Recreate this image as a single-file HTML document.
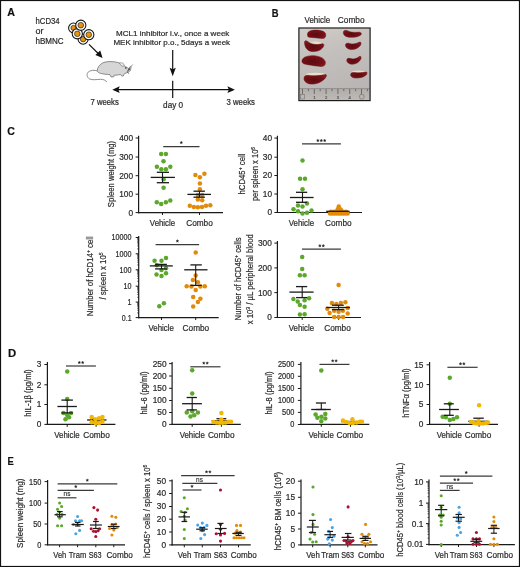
<!DOCTYPE html><html><head><meta charset="utf-8"><style>html,body{margin:0;padding:0;background:#fff;}svg{display:block;will-change:transform;}text{font-family:"Liberation Sans",sans-serif;stroke-width:0.2px;}</style></head><body>
<svg width="520" height="567" viewBox="0 0 520 567">
<rect x="0" y="0" width="520" height="567" fill="#fff"/>
<text x="7.30" y="16.30" font-size="11.8" text-anchor="start" fill="#111" stroke="#111" font-weight="bold" textLength="7.70" lengthAdjust="spacingAndGlyphs">A</text>
<text x="271.70" y="16.90" font-size="11.8" text-anchor="start" fill="#111" stroke="#111" font-weight="bold" textLength="6.80" lengthAdjust="spacingAndGlyphs">B</text>
<text x="7.20" y="134.80" font-size="11.8" text-anchor="start" fill="#111" stroke="#111" font-weight="bold" textLength="7.60" lengthAdjust="spacingAndGlyphs">C</text>
<text x="8.00" y="357.00" font-size="11.8" text-anchor="start" fill="#111" stroke="#111" font-weight="bold" textLength="8.20" lengthAdjust="spacingAndGlyphs">D</text>
<text x="7.50" y="464.50" font-size="11.8" text-anchor="start" fill="#111" stroke="#111" font-weight="bold" textLength="6.30" lengthAdjust="spacingAndGlyphs">E</text>
<text x="35.50" y="24.40" font-size="8.2" text-anchor="start" fill="#2a2a2a" stroke="#2a2a2a" textLength="24.10" lengthAdjust="spacingAndGlyphs">hCD34</text>
<text x="35.50" y="33.60" font-size="8.2" text-anchor="start" fill="#2a2a2a" stroke="#2a2a2a" textLength="8.00" lengthAdjust="spacingAndGlyphs">or</text>
<text x="35.50" y="43.60" font-size="8.2" text-anchor="start" fill="#2a2a2a" stroke="#2a2a2a" textLength="28.20" lengthAdjust="spacingAndGlyphs">hBMNC</text>
<text x="116.00" y="35.80" font-size="7.7" text-anchor="start" fill="#2a2a2a" stroke="#2a2a2a" textLength="113.40" lengthAdjust="spacingAndGlyphs">MCL1 inhibitor i.v., once a week</text>
<text x="113.40" y="45.00" font-size="7.7" text-anchor="start" fill="#2a2a2a" stroke="#2a2a2a" textLength="116.70" lengthAdjust="spacingAndGlyphs">MEK inhibitor p.o., 5days a week</text>
<text x="90.50" y="104.60" font-size="8.3" text-anchor="start" fill="#2a2a2a" stroke="#2a2a2a" textLength="28.30" lengthAdjust="spacingAndGlyphs">7 weeks</text>
<text x="226.50" y="104.80" font-size="8.3" text-anchor="start" fill="#2a2a2a" stroke="#2a2a2a" textLength="28.50" lengthAdjust="spacingAndGlyphs">3 weeks</text>
<text x="163.10" y="108.00" font-size="8.3" text-anchor="start" fill="#2a2a2a" stroke="#2a2a2a" textLength="20.00" lengthAdjust="spacingAndGlyphs">day 0</text>
<circle cx="83.1" cy="39.2" r="5.0" fill="#fff" stroke="#111" stroke-width="1.05"/>
<circle cx="83.1" cy="39.2" r="2.7" fill="#e8940c" stroke="#222" stroke-width="0.7"/>
<circle cx="73.4" cy="27.9" r="4.8" fill="#fff" stroke="#111" stroke-width="1.05"/>
<circle cx="73.4" cy="27.9" r="2.5" fill="#e8940c" stroke="#222" stroke-width="0.7"/>
<circle cx="77.3" cy="33.8" r="5.1" fill="#fff" stroke="#111" stroke-width="1.05"/>
<circle cx="77.3" cy="33.8" r="2.8" fill="#e8940c" stroke="#222" stroke-width="0.7"/>
<circle cx="80.8" cy="25.2" r="5.1" fill="#fff" stroke="#111" stroke-width="1.05"/>
<circle cx="80.8" cy="25.2" r="2.8" fill="#e8940c" stroke="#222" stroke-width="0.7"/>
<circle cx="88.8" cy="34.7" r="5.1" fill="#fff" stroke="#111" stroke-width="1.05"/>
<circle cx="88.8" cy="34.7" r="2.8" fill="#e8940c" stroke="#222" stroke-width="0.7"/>
<line x1="89.00" y1="44.40" x2="99.50" y2="54.80" stroke="#111" stroke-width="1.2"/>
<polygon points="102.6,58.0 95.4,55.0 100.2,50.6" fill="#111"/>
<path d="M97.6,71.0 C94.5,69.9 90.5,70.0 88.3,72.0 C86.3,74.0 86.8,77.4 89.5,78.9 C92.5,80.4 97,79.4 100.5,79.3 C103.5,79.2 105.6,80.3 106.8,82.0" fill="none" stroke="#6a6a6a" stroke-width="0.75"/>
<path d="M97.3,70.6 C97.2,67.8 99.2,64.8 102.5,63.0 C105.5,61.5 110,61.3 114,61.8 C116.5,62.1 118.6,62.6 120.0,63.2 C121.5,63.6 123.0,64.8 124.4,66.0 C126.3,67.2 128.8,68.5 130.8,69.8 C130.4,70.9 129.3,71.6 128.2,72.2 C127.0,72.8 125.6,73.2 124.6,73.5 C124.0,74.3 123.6,75.2 123.3,76.0 L121.7,76.1 C121.3,75.4 121.0,74.9 120.6,74.5 C118.8,74.9 116.5,75.1 114.2,75.3 L113.6,76.9 L111.0,76.9 L109.8,74.6 C106.5,74.5 103.0,74.0 100.5,73.4 C98.6,72.8 97.4,71.9 97.3,70.6 Z" fill="#d6d6d6" stroke="#646464" stroke-width="0.7"/>
<path d="M119.5,63.4 C120.6,62.5 122.4,62.6 123.6,63.8 C124.4,64.8 124.2,66.0 123.2,66.4 C121.8,66.0 120.3,64.9 119.5,63.4 Z" fill="#efefef" stroke="#5a5a5a" stroke-width="0.55"/>
<circle cx="125.8" cy="67.9" r="0.75" fill="#1a1a1a"/>
<g stroke="#2a2a2a" stroke-width="0.5"><line x1="127.6" y1="71.0" x2="132.6" y2="64.6"/><line x1="127.3" y1="71.3" x2="131.8" y2="67.6"/><line x1="127.0" y1="71.2" x2="129.0" y2="74.0"/><line x1="128.0" y1="70.5" x2="130.5" y2="66.0"/></g>
<line x1="172.70" y1="50.10" x2="172.70" y2="70.50" stroke="#111" stroke-width="1.2"/>
<polygon points="169.6,67.8 172.7,69.2 175.8,67.8 172.7,76.3" fill="#111"/>
<line x1="114.50" y1="89.70" x2="232.50" y2="89.70" stroke="#111" stroke-width="1.2"/>
<polygon points="112.3,89.7 119.7,86.3 118.4,89.7 119.7,93.1" fill="#111"/>
<polygon points="234.9,89.7 227.4,86.3 228.8,89.7 227.4,93.1" fill="#111"/>
<line x1="172.70" y1="80.70" x2="172.70" y2="98.00" stroke="#111" stroke-width="1.2"/>
<text x="304.60" y="22.70" font-size="8.3" text-anchor="start" fill="#2a2a2a" stroke="#2a2a2a" textLength="25.60" lengthAdjust="spacingAndGlyphs">Vehicle</text>
<text x="337.80" y="22.70" font-size="8.3" text-anchor="start" fill="#2a2a2a" stroke="#2a2a2a" textLength="26.80" lengthAdjust="spacingAndGlyphs">Combo</text>
<defs><linearGradient id="bg" x1="0" y1="0" x2="0.3" y2="1"><stop offset="0" stop-color="#d2cdc8"/><stop offset="0.35" stop-color="#c5c1be"/><stop offset="1" stop-color="#b9b5b4"/></linearGradient><radialGradient id="spg" cx="0.45" cy="0.55" r="0.6"><stop offset="0" stop-color="#5c0a12"/><stop offset="0.7" stop-color="#741016"/><stop offset="1" stop-color="#8c1a1e"/></radialGradient><linearGradient id="rg" x1="0" y1="0" x2="0" y2="1"><stop offset="0" stop-color="#b0adab"/><stop offset="1" stop-color="#bdbab8"/></linearGradient></defs>
<rect x="299.0" y="28.2" width="71.0" height="72.2" fill="url(#bg)"/>
<rect x="299.0" y="88.6" width="71.0" height="11.8" fill="url(#rg)"/>
<line x1="299.00" y1="88.60" x2="370.00" y2="88.60" stroke="#8d8a88" stroke-width="0.9"/>
<line x1="302.50" y1="89.00" x2="302.50" y2="94.04" stroke="#5a5856" stroke-width="0.8"/>
<line x1="308.40" y1="89.00" x2="308.40" y2="91.20" stroke="#5a5856" stroke-width="0.8"/>
<line x1="314.30" y1="89.00" x2="314.30" y2="94.04" stroke="#5a5856" stroke-width="0.8"/>
<line x1="320.20" y1="89.00" x2="320.20" y2="91.20" stroke="#5a5856" stroke-width="0.8"/>
<line x1="326.10" y1="89.00" x2="326.10" y2="94.04" stroke="#5a5856" stroke-width="0.8"/>
<line x1="332.00" y1="89.00" x2="332.00" y2="91.20" stroke="#5a5856" stroke-width="0.8"/>
<line x1="337.90" y1="89.00" x2="337.90" y2="94.04" stroke="#5a5856" stroke-width="0.8"/>
<line x1="343.80" y1="89.00" x2="343.80" y2="91.20" stroke="#5a5856" stroke-width="0.8"/>
<line x1="349.70" y1="89.00" x2="349.70" y2="94.04" stroke="#5a5856" stroke-width="0.8"/>
<line x1="355.60" y1="89.00" x2="355.60" y2="91.20" stroke="#5a5856" stroke-width="0.8"/>
<line x1="361.50" y1="89.00" x2="361.50" y2="94.04" stroke="#5a5856" stroke-width="0.8"/>
<line x1="367.40" y1="89.00" x2="367.40" y2="91.20" stroke="#5a5856" stroke-width="0.8"/>
<text x="314.30" y="98.60" font-size="4.2" text-anchor="middle" fill="#5a5856" stroke="#5a5856">1</text>
<text x="326.10" y="98.60" font-size="4.2" text-anchor="middle" fill="#5a5856" stroke="#5a5856">2</text>
<text x="337.90" y="98.60" font-size="4.2" text-anchor="middle" fill="#5a5856" stroke="#5a5856">3</text>
<text x="349.70" y="98.60" font-size="4.2" text-anchor="middle" fill="#5a5856" stroke="#5a5856">4</text>
<rect x="300.3" y="94.6" width="4" height="4.4" fill="none" stroke="#77736f" stroke-width="0.6"/>
<rect x="359.6" y="94.4" width="4.4" height="4.6" rx="1.5" fill="none" stroke="#77736f" stroke-width="0.7"/>
<ellipse cx="315.5" cy="43.4" rx="6.5" ry="1.8" fill="#eadfc6"/>
<ellipse cx="315.5" cy="74.6" rx="9.5" ry="1.8" fill="#eadfc6"/>
<ellipse cx="359.0" cy="72.0" rx="7.2" ry="1.4" fill="#eadfc6"/>
<path d="M307.5,35 C307,31.5 311,30 316,30.1 C321,30.2 325.5,31.5 325.7,34.5 C325.8,37 325,38.5 322.5,38.4 C318,38 312,37.6 309,37.2 C308,37 307.6,36 307.5,35 Z" fill="url(#spg)" stroke="#5e0c10" stroke-width="0.5"/>
<path d="M304.5,42.5 C304.3,40.5 306.5,40.2 308,41.8 C311,44.5 317,45.2 322,43.8 C324,43.3 324.3,45.2 323.2,47 C321,50.5 316.5,51.8 312,51.5 C307.5,51.2 304.7,47.5 304.5,42.5 Z" fill="url(#spg)" stroke="#5e0c10" stroke-width="0.5"/>
<path d="M302,61.5 C301.5,58 306,55.8 312,55.7 C319,55.7 324.5,58 325.3,62 C325.8,65 324,66.6 321,66.4 C315,66 308,64.8 304.5,64 C302.8,63.5 302.1,62.6 302,61.5 Z" fill="url(#spg)" stroke="#5e0c10" stroke-width="0.5"/>
<path d="M304,78.5 C304,75.8 306,75 309,75.4 C314,76 320,75.8 325.5,74.6 C326.8,74.4 326.6,76 325.8,77.2 C323.5,81 318,84 312,84.1 C307,84.1 304,81.5 304,78.5 Z" fill="url(#spg)" stroke="#5e0c10" stroke-width="0.5"/>
<path d="M343.3,32.5 C343.3,30.3 346,29.8 348,31 C351,32.6 355,32.5 359,32.2 C361.2,32 362,33.8 360.8,35 C358.5,37 353,37.6 349,37.2 C345.5,36.8 343.3,35 343.3,32.5 Z" fill="url(#spg)" stroke="#5e0c10" stroke-width="0.5"/>
<path d="M345.5,45 C345.5,43.2 347.5,42.8 349.5,43.5 C352.5,44.5 356,44 359,42.3 C361,41.3 361.7,43.5 360.5,45.2 C358.5,48 355,49.6 351.5,49.5 C348,49.4 345.5,47.5 345.5,45 Z" fill="url(#spg)" stroke="#5e0c10" stroke-width="0.5"/>
<path d="M346.8,60.2 C346.8,58.3 348.5,58 350.5,58.6 C353.5,59.4 356.5,58.8 359,56.8 C360.8,55.5 361.6,57.3 360.8,59 C359.5,62 356,64.2 352.5,64.2 C349,64.2 346.8,62.5 346.8,60.2 Z" fill="url(#spg)" stroke="#5e0c10" stroke-width="0.5"/>
<path d="M350.6,74.8 C350.6,72.8 352.5,72.3 355,72.6 C358.5,73 362.5,72.8 365.5,72 C367.3,71.6 367.4,73.5 366.3,74.8 C364.5,77 360,78.2 355.5,78 C352.5,77.9 350.6,76.5 350.6,74.8 Z" fill="url(#spg)" stroke="#5e0c10" stroke-width="0.5"/>
<rect x="298.9" y="28.0" width="71.2" height="72.6" fill="none" stroke="#1c1c1c" stroke-width="1.2"/>
<line x1="138.60" y1="135.80" x2="138.60" y2="213.15" stroke="#1a1a1a" stroke-width="1.2"/>
<line x1="138.00" y1="212.60" x2="223.00" y2="212.60" stroke="#1a1a1a" stroke-width="1.2"/>
<line x1="135.60" y1="138.00" x2="138.60" y2="138.00" stroke="#1a1a1a" stroke-width="1.0"/>
<text x="133.10" y="140.95" font-size="8.3" text-anchor="end" fill="#2a2a2a" stroke="#2a2a2a">400</text>
<line x1="135.60" y1="157.00" x2="138.60" y2="157.00" stroke="#1a1a1a" stroke-width="1.0"/>
<text x="133.10" y="159.95" font-size="8.3" text-anchor="end" fill="#2a2a2a" stroke="#2a2a2a">300</text>
<line x1="135.60" y1="175.70" x2="138.60" y2="175.70" stroke="#1a1a1a" stroke-width="1.0"/>
<text x="133.10" y="178.65" font-size="8.3" text-anchor="end" fill="#2a2a2a" stroke="#2a2a2a">200</text>
<line x1="135.60" y1="194.20" x2="138.60" y2="194.20" stroke="#1a1a1a" stroke-width="1.0"/>
<text x="133.10" y="197.15" font-size="8.3" text-anchor="end" fill="#2a2a2a" stroke="#2a2a2a">100</text>
<line x1="135.60" y1="212.60" x2="138.60" y2="212.60" stroke="#1a1a1a" stroke-width="1.0"/>
<text x="133.10" y="215.55" font-size="8.3" text-anchor="end" fill="#2a2a2a" stroke="#2a2a2a">0</text>
<line x1="162.50" y1="212.60" x2="162.50" y2="215.00" stroke="#1a1a1a" stroke-width="1.0"/>
<line x1="199.50" y1="212.60" x2="199.50" y2="215.00" stroke="#1a1a1a" stroke-width="1.0"/>
<text x="162.50" y="225.80" font-size="8.5" text-anchor="middle" fill="#2a2a2a" stroke="#2a2a2a" textLength="25.30" lengthAdjust="spacingAndGlyphs">Vehicle</text>
<text x="199.50" y="225.80" font-size="8.5" text-anchor="middle" fill="#2a2a2a" stroke="#2a2a2a" textLength="26.60" lengthAdjust="spacingAndGlyphs">Combo</text>
<text x="114.16" y="174.00" font-size="9.2" text-anchor="middle" fill="#2a2a2a" stroke="#2a2a2a" textLength="66.30" lengthAdjust="spacingAndGlyphs" transform="rotate(-90 114.16 174.00)">Spleen weight (mg)</text>
<line x1="163.20" y1="146.60" x2="199.50" y2="146.60" stroke="#3a3a3a" stroke-width="1.2"/>
<polygon points="181.30,141.15 181.71,142.03 182.68,142.15 181.97,142.82 182.15,143.77 181.30,143.30 180.45,143.77 180.63,142.82 179.92,142.15 180.89,142.03" fill="#222" stroke="#222" stroke-width="0.3"/>
<circle cx="161.20" cy="154.10" r="2.25" fill="#5ba82c"/>
<circle cx="165.90" cy="154.10" r="2.25" fill="#5ba82c"/>
<circle cx="163.50" cy="161.30" r="2.25" fill="#5ba82c"/>
<circle cx="156.90" cy="166.70" r="2.25" fill="#5ba82c"/>
<circle cx="170.30" cy="166.70" r="2.25" fill="#5ba82c"/>
<circle cx="161.30" cy="169.30" r="2.25" fill="#5ba82c"/>
<circle cx="165.90" cy="169.30" r="2.25" fill="#5ba82c"/>
<circle cx="163.60" cy="179.30" r="2.25" fill="#5ba82c"/>
<circle cx="163.60" cy="187.80" r="2.25" fill="#5ba82c"/>
<circle cx="156.80" cy="202.20" r="2.25" fill="#5ba82c"/>
<circle cx="161.20" cy="204.00" r="2.25" fill="#5ba82c"/>
<circle cx="165.90" cy="202.20" r="2.25" fill="#5ba82c"/>
<circle cx="170.30" cy="200.60" r="2.25" fill="#5ba82c"/>
<circle cx="195.40" cy="175.00" r="2.25" fill="#e08b0c"/>
<circle cx="204.40" cy="173.80" r="2.25" fill="#e08b0c"/>
<circle cx="199.90" cy="177.30" r="2.25" fill="#e08b0c"/>
<circle cx="199.90" cy="183.50" r="2.25" fill="#e08b0c"/>
<circle cx="199.90" cy="189.30" r="2.25" fill="#e08b0c"/>
<circle cx="197.90" cy="195.00" r="2.25" fill="#e08b0c"/>
<circle cx="202.20" cy="195.00" r="2.25" fill="#e08b0c"/>
<circle cx="197.90" cy="199.50" r="2.25" fill="#e08b0c"/>
<circle cx="202.20" cy="200.20" r="2.25" fill="#e08b0c"/>
<circle cx="189.80" cy="205.80" r="2.25" fill="#e08b0c"/>
<circle cx="193.90" cy="206.90" r="2.25" fill="#e08b0c"/>
<circle cx="197.90" cy="207.30" r="2.25" fill="#e08b0c"/>
<circle cx="202.00" cy="206.90" r="2.25" fill="#e08b0c"/>
<circle cx="206.00" cy="205.80" r="2.25" fill="#e08b0c"/>
<circle cx="210.30" cy="205.20" r="2.25" fill="#e08b0c"/>
<line x1="150.70" y1="177.40" x2="174.90" y2="177.40" stroke="#1a1a1a" stroke-width="1.3"/>
<line x1="156.80" y1="172.30" x2="169.00" y2="172.30" stroke="#1a1a1a" stroke-width="1.3"/>
<line x1="156.80" y1="182.70" x2="169.00" y2="182.70" stroke="#1a1a1a" stroke-width="1.3"/>
<line x1="162.50" y1="172.30" x2="162.50" y2="182.70" stroke="#1a1a1a" stroke-width="1.105"/>
<line x1="187.40" y1="194.40" x2="211.00" y2="194.40" stroke="#1a1a1a" stroke-width="1.3"/>
<line x1="193.50" y1="191.20" x2="204.90" y2="191.20" stroke="#1a1a1a" stroke-width="1.3"/>
<line x1="193.50" y1="197.20" x2="204.90" y2="197.20" stroke="#1a1a1a" stroke-width="1.3"/>
<line x1="199.50" y1="191.20" x2="199.50" y2="197.20" stroke="#1a1a1a" stroke-width="1.105"/>
<line x1="277.40" y1="135.80" x2="277.40" y2="213.05" stroke="#1a1a1a" stroke-width="1.2"/>
<line x1="276.80" y1="212.50" x2="362.00" y2="212.50" stroke="#1a1a1a" stroke-width="1.2"/>
<line x1="274.40" y1="138.10" x2="277.40" y2="138.10" stroke="#1a1a1a" stroke-width="1.0"/>
<text x="272.00" y="141.05" font-size="8.3" text-anchor="end" fill="#2a2a2a" stroke="#2a2a2a">40</text>
<line x1="274.40" y1="157.20" x2="277.40" y2="157.20" stroke="#1a1a1a" stroke-width="1.0"/>
<text x="272.00" y="160.15" font-size="8.3" text-anchor="end" fill="#2a2a2a" stroke="#2a2a2a">30</text>
<line x1="274.40" y1="175.50" x2="277.40" y2="175.50" stroke="#1a1a1a" stroke-width="1.0"/>
<text x="272.00" y="178.45" font-size="8.3" text-anchor="end" fill="#2a2a2a" stroke="#2a2a2a">20</text>
<line x1="274.40" y1="194.00" x2="277.40" y2="194.00" stroke="#1a1a1a" stroke-width="1.0"/>
<text x="272.00" y="196.95" font-size="8.3" text-anchor="end" fill="#2a2a2a" stroke="#2a2a2a">10</text>
<line x1="274.40" y1="212.50" x2="277.40" y2="212.50" stroke="#1a1a1a" stroke-width="1.0"/>
<text x="272.00" y="215.45" font-size="8.3" text-anchor="end" fill="#2a2a2a" stroke="#2a2a2a">0</text>
<line x1="302.50" y1="212.50" x2="302.50" y2="214.90" stroke="#1a1a1a" stroke-width="1.0"/>
<line x1="338.90" y1="212.50" x2="338.90" y2="214.90" stroke="#1a1a1a" stroke-width="1.0"/>
<text x="301.40" y="225.80" font-size="8.5" text-anchor="middle" fill="#2a2a2a" stroke="#2a2a2a" textLength="25.30" lengthAdjust="spacingAndGlyphs">Vehicle</text>
<text x="338.30" y="225.80" font-size="8.5" text-anchor="middle" fill="#2a2a2a" stroke="#2a2a2a" textLength="26.60" lengthAdjust="spacingAndGlyphs">Combo</text>
<text x="244.96" y="174.00" font-size="9.2" text-anchor="middle" fill="#2a2a2a" stroke="#2a2a2a" textLength="41.10" lengthAdjust="spacingAndGlyphs" transform="rotate(-90 244.96 174.00)">hCD45<tspan dy="-3" font-size="6">+</tspan><tspan dy="3"> cell</tspan></text>
<text x="257.76" y="174.00" font-size="9.2" text-anchor="middle" fill="#2a2a2a" stroke="#2a2a2a" textLength="54.10" lengthAdjust="spacingAndGlyphs" transform="rotate(-90 257.76 174.00)">per spleen x 10<tspan dy="-3" font-size="6">6</tspan></text>
<line x1="302.00" y1="143.80" x2="340.90" y2="143.80" stroke="#3a3a3a" stroke-width="1.2"/>
<polygon points="317.90,139.05 318.31,139.93 319.28,140.05 318.57,140.72 318.75,141.67 317.90,141.20 317.05,141.67 317.23,140.72 316.52,140.05 317.49,139.93" fill="#222" stroke="#222" stroke-width="0.3"/>
<polygon points="321.30,139.05 321.71,139.93 322.68,140.05 321.97,140.72 322.15,141.67 321.30,141.20 320.45,141.67 320.63,140.72 319.92,140.05 320.89,139.93" fill="#222" stroke="#222" stroke-width="0.3"/>
<polygon points="324.70,139.05 325.11,139.93 326.08,140.05 325.37,140.72 325.55,141.67 324.70,141.20 323.85,141.67 324.03,140.72 323.32,140.05 324.29,139.93" fill="#222" stroke="#222" stroke-width="0.3"/>
<circle cx="302.50" cy="160.60" r="2.25" fill="#5ba82c"/>
<circle cx="300.10" cy="178.80" r="2.25" fill="#5ba82c"/>
<circle cx="305.00" cy="178.80" r="2.25" fill="#5ba82c"/>
<circle cx="302.50" cy="189.20" r="2.25" fill="#5ba82c"/>
<circle cx="298.00" cy="205.60" r="2.25" fill="#5ba82c"/>
<circle cx="307.00" cy="203.40" r="2.25" fill="#5ba82c"/>
<circle cx="302.50" cy="206.60" r="2.25" fill="#5ba82c"/>
<circle cx="293.50" cy="209.20" r="2.25" fill="#5ba82c"/>
<circle cx="298.00" cy="211.30" r="2.25" fill="#5ba82c"/>
<circle cx="302.50" cy="213.60" r="2.25" fill="#5ba82c"/>
<circle cx="307.00" cy="212.70" r="2.25" fill="#5ba82c"/>
<circle cx="311.50" cy="210.40" r="2.25" fill="#5ba82c"/>
<circle cx="338.80" cy="206.50" r="2.25" fill="#e08b0c"/>
<circle cx="337.70" cy="209.20" r="2.25" fill="#e08b0c"/>
<circle cx="340.80" cy="209.60" r="2.25" fill="#e08b0c"/>
<circle cx="330.00" cy="213.40" r="2.25" fill="#e08b0c"/>
<circle cx="332.20" cy="213.40" r="2.25" fill="#e08b0c"/>
<circle cx="334.40" cy="213.40" r="2.25" fill="#e08b0c"/>
<circle cx="336.60" cy="213.40" r="2.25" fill="#e08b0c"/>
<circle cx="338.80" cy="213.40" r="2.25" fill="#e08b0c"/>
<circle cx="341.00" cy="213.40" r="2.25" fill="#e08b0c"/>
<circle cx="343.20" cy="213.40" r="2.25" fill="#e08b0c"/>
<circle cx="345.40" cy="213.40" r="2.25" fill="#e08b0c"/>
<circle cx="347.60" cy="213.40" r="2.25" fill="#e08b0c"/>
<circle cx="331.00" cy="211.80" r="2.25" fill="#e08b0c"/>
<circle cx="334.00" cy="211.80" r="2.25" fill="#e08b0c"/>
<circle cx="337.00" cy="211.80" r="2.25" fill="#e08b0c"/>
<circle cx="340.00" cy="211.80" r="2.25" fill="#e08b0c"/>
<circle cx="343.00" cy="211.80" r="2.25" fill="#e08b0c"/>
<circle cx="346.00" cy="211.80" r="2.25" fill="#e08b0c"/>
<line x1="289.90" y1="197.50" x2="313.60" y2="197.50" stroke="#1a1a1a" stroke-width="1.3"/>
<line x1="296.00" y1="192.30" x2="307.20" y2="192.30" stroke="#1a1a1a" stroke-width="1.3"/>
<line x1="296.00" y1="202.30" x2="307.20" y2="202.30" stroke="#1a1a1a" stroke-width="1.3"/>
<line x1="302.50" y1="192.30" x2="302.50" y2="202.30" stroke="#1a1a1a" stroke-width="1.105"/>
<line x1="326.20" y1="211.30" x2="349.60" y2="211.30" stroke="#1a1a1a" stroke-width="1.3"/>
<line x1="138.70" y1="236.00" x2="138.70" y2="318.15" stroke="#1a1a1a" stroke-width="1.2"/>
<line x1="138.10" y1="317.60" x2="218.70" y2="317.60" stroke="#1a1a1a" stroke-width="1.2"/>
<line x1="135.70" y1="237.50" x2="138.70" y2="237.50" stroke="#1a1a1a" stroke-width="1.0"/>
<text x="131.60" y="240.45" font-size="8.3" text-anchor="end" fill="#2a2a2a" stroke="#2a2a2a" textLength="20.00" lengthAdjust="spacingAndGlyphs">10000</text>
<line x1="135.70" y1="253.80" x2="138.70" y2="253.80" stroke="#1a1a1a" stroke-width="1.0"/>
<text x="131.60" y="256.75" font-size="8.3" text-anchor="end" fill="#2a2a2a" stroke="#2a2a2a" textLength="16.00" lengthAdjust="spacingAndGlyphs">1000</text>
<line x1="135.70" y1="269.80" x2="138.70" y2="269.80" stroke="#1a1a1a" stroke-width="1.0"/>
<text x="131.60" y="272.75" font-size="8.3" text-anchor="end" fill="#2a2a2a" stroke="#2a2a2a" textLength="12.00" lengthAdjust="spacingAndGlyphs">100</text>
<line x1="135.70" y1="286.20" x2="138.70" y2="286.20" stroke="#1a1a1a" stroke-width="1.0"/>
<text x="131.60" y="289.15" font-size="8.3" text-anchor="end" fill="#2a2a2a" stroke="#2a2a2a" textLength="8.00" lengthAdjust="spacingAndGlyphs">10</text>
<line x1="135.70" y1="302.10" x2="138.70" y2="302.10" stroke="#1a1a1a" stroke-width="1.0"/>
<text x="131.60" y="305.05" font-size="8.3" text-anchor="end" fill="#2a2a2a" stroke="#2a2a2a" textLength="4.00" lengthAdjust="spacingAndGlyphs">1</text>
<line x1="135.70" y1="317.60" x2="138.70" y2="317.60" stroke="#1a1a1a" stroke-width="1.0"/>
<text x="131.60" y="320.55" font-size="8.3" text-anchor="end" fill="#2a2a2a" stroke="#2a2a2a" textLength="9.80" lengthAdjust="spacingAndGlyphs">0.1</text>
<line x1="137.20" y1="312.93" x2="138.70" y2="312.93" stroke="#1a1a1a" stroke-width="0.7"/>
<line x1="137.20" y1="310.20" x2="138.70" y2="310.20" stroke="#1a1a1a" stroke-width="0.7"/>
<line x1="137.20" y1="308.27" x2="138.70" y2="308.27" stroke="#1a1a1a" stroke-width="0.7"/>
<line x1="137.20" y1="306.77" x2="138.70" y2="306.77" stroke="#1a1a1a" stroke-width="0.7"/>
<line x1="137.20" y1="305.54" x2="138.70" y2="305.54" stroke="#1a1a1a" stroke-width="0.7"/>
<line x1="137.20" y1="304.50" x2="138.70" y2="304.50" stroke="#1a1a1a" stroke-width="0.7"/>
<line x1="137.20" y1="303.60" x2="138.70" y2="303.60" stroke="#1a1a1a" stroke-width="0.7"/>
<line x1="137.20" y1="302.81" x2="138.70" y2="302.81" stroke="#1a1a1a" stroke-width="0.7"/>
<line x1="137.20" y1="297.31" x2="138.70" y2="297.31" stroke="#1a1a1a" stroke-width="0.7"/>
<line x1="137.20" y1="294.51" x2="138.70" y2="294.51" stroke="#1a1a1a" stroke-width="0.7"/>
<line x1="137.20" y1="292.53" x2="138.70" y2="292.53" stroke="#1a1a1a" stroke-width="0.7"/>
<line x1="137.20" y1="290.99" x2="138.70" y2="290.99" stroke="#1a1a1a" stroke-width="0.7"/>
<line x1="137.20" y1="289.73" x2="138.70" y2="289.73" stroke="#1a1a1a" stroke-width="0.7"/>
<line x1="137.20" y1="288.66" x2="138.70" y2="288.66" stroke="#1a1a1a" stroke-width="0.7"/>
<line x1="137.20" y1="287.74" x2="138.70" y2="287.74" stroke="#1a1a1a" stroke-width="0.7"/>
<line x1="137.20" y1="286.93" x2="138.70" y2="286.93" stroke="#1a1a1a" stroke-width="0.7"/>
<line x1="137.20" y1="281.26" x2="138.70" y2="281.26" stroke="#1a1a1a" stroke-width="0.7"/>
<line x1="137.20" y1="278.38" x2="138.70" y2="278.38" stroke="#1a1a1a" stroke-width="0.7"/>
<line x1="137.20" y1="276.33" x2="138.70" y2="276.33" stroke="#1a1a1a" stroke-width="0.7"/>
<line x1="137.20" y1="274.74" x2="138.70" y2="274.74" stroke="#1a1a1a" stroke-width="0.7"/>
<line x1="137.20" y1="273.44" x2="138.70" y2="273.44" stroke="#1a1a1a" stroke-width="0.7"/>
<line x1="137.20" y1="272.34" x2="138.70" y2="272.34" stroke="#1a1a1a" stroke-width="0.7"/>
<line x1="137.20" y1="271.39" x2="138.70" y2="271.39" stroke="#1a1a1a" stroke-width="0.7"/>
<line x1="137.20" y1="270.55" x2="138.70" y2="270.55" stroke="#1a1a1a" stroke-width="0.7"/>
<line x1="137.20" y1="264.98" x2="138.70" y2="264.98" stroke="#1a1a1a" stroke-width="0.7"/>
<line x1="137.20" y1="262.17" x2="138.70" y2="262.17" stroke="#1a1a1a" stroke-width="0.7"/>
<line x1="137.20" y1="260.17" x2="138.70" y2="260.17" stroke="#1a1a1a" stroke-width="0.7"/>
<line x1="137.20" y1="258.62" x2="138.70" y2="258.62" stroke="#1a1a1a" stroke-width="0.7"/>
<line x1="137.20" y1="257.35" x2="138.70" y2="257.35" stroke="#1a1a1a" stroke-width="0.7"/>
<line x1="137.20" y1="256.28" x2="138.70" y2="256.28" stroke="#1a1a1a" stroke-width="0.7"/>
<line x1="137.20" y1="255.35" x2="138.70" y2="255.35" stroke="#1a1a1a" stroke-width="0.7"/>
<line x1="137.20" y1="254.53" x2="138.70" y2="254.53" stroke="#1a1a1a" stroke-width="0.7"/>
<line x1="137.20" y1="248.89" x2="138.70" y2="248.89" stroke="#1a1a1a" stroke-width="0.7"/>
<line x1="137.20" y1="246.02" x2="138.70" y2="246.02" stroke="#1a1a1a" stroke-width="0.7"/>
<line x1="137.20" y1="243.99" x2="138.70" y2="243.99" stroke="#1a1a1a" stroke-width="0.7"/>
<line x1="137.20" y1="242.41" x2="138.70" y2="242.41" stroke="#1a1a1a" stroke-width="0.7"/>
<line x1="137.20" y1="241.12" x2="138.70" y2="241.12" stroke="#1a1a1a" stroke-width="0.7"/>
<line x1="137.20" y1="240.02" x2="138.70" y2="240.02" stroke="#1a1a1a" stroke-width="0.7"/>
<line x1="137.20" y1="239.08" x2="138.70" y2="239.08" stroke="#1a1a1a" stroke-width="0.7"/>
<line x1="137.20" y1="238.25" x2="138.70" y2="238.25" stroke="#1a1a1a" stroke-width="0.7"/>
<line x1="161.50" y1="317.60" x2="161.50" y2="320.00" stroke="#1a1a1a" stroke-width="1.0"/>
<line x1="195.70" y1="317.60" x2="195.70" y2="320.00" stroke="#1a1a1a" stroke-width="1.0"/>
<text x="161.20" y="330.90" font-size="8.5" text-anchor="middle" fill="#2a2a2a" stroke="#2a2a2a" textLength="25.30" lengthAdjust="spacingAndGlyphs">Vehicle</text>
<text x="195.90" y="330.90" font-size="8.5" text-anchor="middle" fill="#2a2a2a" stroke="#2a2a2a" textLength="26.60" lengthAdjust="spacingAndGlyphs">Combo</text>
<text x="93.16" y="276.20" font-size="9.2" text-anchor="middle" fill="#2a2a2a" stroke="#2a2a2a" textLength="80.10" lengthAdjust="spacingAndGlyphs" transform="rotate(-90 93.16 276.20)">Number of hCD14<tspan dy="-3" font-size="6">+</tspan><tspan dy="3"> cell</tspan></text>
<text x="105.76" y="276.00" font-size="9.2" text-anchor="middle" fill="#2a2a2a" stroke="#2a2a2a" textLength="47.20" lengthAdjust="spacingAndGlyphs" transform="rotate(-90 105.76 276.00)">/ spleen x 10<tspan dy="-3" font-size="6">5</tspan></text>
<line x1="155.60" y1="244.60" x2="199.10" y2="244.60" stroke="#3a3a3a" stroke-width="1.2"/>
<polygon points="177.40,239.55 177.81,240.43 178.78,240.55 178.07,241.22 178.25,242.17 177.40,241.70 176.55,242.17 176.73,241.22 176.02,240.55 176.99,240.43" fill="#222" stroke="#222" stroke-width="0.3"/>
<circle cx="166.00" cy="258.00" r="2.25" fill="#5ba82c"/>
<circle cx="154.60" cy="260.70" r="2.25" fill="#5ba82c"/>
<circle cx="161.50" cy="260.70" r="2.25" fill="#5ba82c"/>
<circle cx="156.80" cy="265.20" r="2.25" fill="#5ba82c"/>
<circle cx="161.50" cy="270.00" r="2.25" fill="#5ba82c"/>
<circle cx="166.00" cy="268.30" r="2.25" fill="#5ba82c"/>
<circle cx="156.50" cy="274.50" r="2.25" fill="#5ba82c"/>
<circle cx="161.50" cy="276.10" r="2.25" fill="#5ba82c"/>
<circle cx="166.00" cy="273.30" r="2.25" fill="#5ba82c"/>
<circle cx="159.30" cy="306.30" r="2.25" fill="#5ba82c"/>
<circle cx="163.90" cy="303.30" r="2.25" fill="#5ba82c"/>
<circle cx="195.70" cy="252.60" r="2.25" fill="#e08b0c"/>
<circle cx="195.70" cy="275.60" r="2.25" fill="#e08b0c"/>
<circle cx="192.90" cy="280.00" r="2.25" fill="#e08b0c"/>
<circle cx="197.90" cy="282.30" r="2.25" fill="#e08b0c"/>
<circle cx="186.70" cy="286.20" r="2.25" fill="#e08b0c"/>
<circle cx="191.40" cy="286.50" r="2.25" fill="#e08b0c"/>
<circle cx="200.40" cy="286.50" r="2.25" fill="#e08b0c"/>
<circle cx="204.80" cy="286.20" r="2.25" fill="#e08b0c"/>
<circle cx="195.70" cy="290.10" r="2.25" fill="#e08b0c"/>
<circle cx="193.20" cy="297.10" r="2.25" fill="#e08b0c"/>
<circle cx="200.40" cy="298.80" r="2.25" fill="#e08b0c"/>
<circle cx="197.90" cy="302.10" r="2.25" fill="#e08b0c"/>
<circle cx="193.20" cy="306.50" r="2.25" fill="#e08b0c"/>
<line x1="149.80" y1="265.90" x2="172.80" y2="265.90" stroke="#1a1a1a" stroke-width="1.3"/>
<line x1="155.10" y1="264.40" x2="166.90" y2="264.40" stroke="#1a1a1a" stroke-width="1.3"/>
<line x1="155.10" y1="268.90" x2="166.90" y2="268.90" stroke="#1a1a1a" stroke-width="1.3"/>
<line x1="161.50" y1="264.40" x2="161.50" y2="268.90" stroke="#1a1a1a" stroke-width="1.105"/>
<line x1="184.20" y1="269.80" x2="207.50" y2="269.80" stroke="#1a1a1a" stroke-width="1.3"/>
<line x1="190.40" y1="264.90" x2="201.80" y2="264.90" stroke="#1a1a1a" stroke-width="1.3"/>
<line x1="190.40" y1="285.40" x2="201.80" y2="285.40" stroke="#1a1a1a" stroke-width="1.3"/>
<line x1="195.70" y1="264.90" x2="195.70" y2="285.40" stroke="#1a1a1a" stroke-width="1.105"/>
<line x1="277.40" y1="241.00" x2="277.40" y2="318.05" stroke="#1a1a1a" stroke-width="1.2"/>
<line x1="276.80" y1="317.50" x2="361.00" y2="317.50" stroke="#1a1a1a" stroke-width="1.2"/>
<line x1="274.40" y1="243.10" x2="277.40" y2="243.10" stroke="#1a1a1a" stroke-width="1.0"/>
<text x="271.80" y="246.05" font-size="8.3" text-anchor="end" fill="#2a2a2a" stroke="#2a2a2a">300</text>
<line x1="274.40" y1="267.90" x2="277.40" y2="267.90" stroke="#1a1a1a" stroke-width="1.0"/>
<text x="271.80" y="270.85" font-size="8.3" text-anchor="end" fill="#2a2a2a" stroke="#2a2a2a">200</text>
<line x1="274.40" y1="292.60" x2="277.40" y2="292.60" stroke="#1a1a1a" stroke-width="1.0"/>
<text x="271.80" y="295.55" font-size="8.3" text-anchor="end" fill="#2a2a2a" stroke="#2a2a2a">100</text>
<line x1="274.40" y1="317.50" x2="277.40" y2="317.50" stroke="#1a1a1a" stroke-width="1.0"/>
<text x="271.80" y="320.45" font-size="8.3" text-anchor="end" fill="#2a2a2a" stroke="#2a2a2a">0</text>
<line x1="302.20" y1="317.50" x2="302.20" y2="319.90" stroke="#1a1a1a" stroke-width="1.0"/>
<line x1="338.70" y1="317.50" x2="338.70" y2="319.90" stroke="#1a1a1a" stroke-width="1.0"/>
<text x="301.40" y="330.90" font-size="8.5" text-anchor="middle" fill="#2a2a2a" stroke="#2a2a2a" textLength="25.30" lengthAdjust="spacingAndGlyphs">Vehicle</text>
<text x="337.50" y="330.90" font-size="8.5" text-anchor="middle" fill="#2a2a2a" stroke="#2a2a2a" textLength="26.60" lengthAdjust="spacingAndGlyphs">Combo</text>
<text x="241.26" y="278.90" font-size="9.2" text-anchor="middle" fill="#2a2a2a" stroke="#2a2a2a" textLength="83.10" lengthAdjust="spacingAndGlyphs" transform="rotate(-90 241.26 278.90)">Number of hCD45<tspan dy="-3" font-size="6">+</tspan><tspan dy="3"> cells</tspan></text>
<text x="252.66" y="279.20" font-size="9.2" text-anchor="middle" fill="#2a2a2a" stroke="#2a2a2a" textLength="90.30" lengthAdjust="spacingAndGlyphs" transform="rotate(-90 252.66 279.20)">x 10<tspan dy="-3" font-size="6">3</tspan><tspan dy="3"> / µL peripheral blood</tspan></text>
<line x1="302.00" y1="249.20" x2="340.90" y2="249.20" stroke="#3a3a3a" stroke-width="1.2"/>
<polygon points="319.90,244.35 320.31,245.23 321.28,245.35 320.57,246.02 320.75,246.97 319.90,246.50 319.05,246.97 319.23,246.02 318.52,245.35 319.49,245.23" fill="#222" stroke="#222" stroke-width="0.3"/>
<polygon points="323.30,244.35 323.71,245.23 324.68,245.35 323.97,246.02 324.15,246.97 323.30,246.50 322.45,246.97 322.63,246.02 321.92,245.35 322.89,245.23" fill="#222" stroke="#222" stroke-width="0.3"/>
<circle cx="302.20" cy="257.00" r="2.25" fill="#5ba82c"/>
<circle cx="302.20" cy="269.10" r="2.25" fill="#5ba82c"/>
<circle cx="299.90" cy="275.30" r="2.25" fill="#5ba82c"/>
<circle cx="304.60" cy="275.30" r="2.25" fill="#5ba82c"/>
<circle cx="293.40" cy="299.00" r="2.25" fill="#5ba82c"/>
<circle cx="297.70" cy="301.60" r="2.25" fill="#5ba82c"/>
<circle cx="304.60" cy="300.20" r="2.25" fill="#5ba82c"/>
<circle cx="309.10" cy="298.20" r="2.25" fill="#5ba82c"/>
<circle cx="299.90" cy="305.10" r="2.25" fill="#5ba82c"/>
<circle cx="304.60" cy="306.80" r="2.25" fill="#5ba82c"/>
<circle cx="299.90" cy="314.60" r="2.25" fill="#5ba82c"/>
<circle cx="304.60" cy="314.20" r="2.25" fill="#5ba82c"/>
<circle cx="338.60" cy="285.00" r="2.25" fill="#e08b0c"/>
<circle cx="331.90" cy="302.90" r="2.25" fill="#e08b0c"/>
<circle cx="336.30" cy="304.00" r="2.25" fill="#e08b0c"/>
<circle cx="340.80" cy="302.90" r="2.25" fill="#e08b0c"/>
<circle cx="345.40" cy="302.30" r="2.25" fill="#e08b0c"/>
<circle cx="327.30" cy="308.80" r="2.25" fill="#e08b0c"/>
<circle cx="334.20" cy="310.80" r="2.25" fill="#e08b0c"/>
<circle cx="338.60" cy="311.70" r="2.25" fill="#e08b0c"/>
<circle cx="342.90" cy="310.80" r="2.25" fill="#e08b0c"/>
<circle cx="347.70" cy="308.10" r="2.25" fill="#e08b0c"/>
<circle cx="329.60" cy="312.90" r="2.25" fill="#e08b0c"/>
<circle cx="347.70" cy="313.50" r="2.25" fill="#e08b0c"/>
<circle cx="334.20" cy="316.90" r="2.25" fill="#e08b0c"/>
<circle cx="338.60" cy="316.90" r="2.25" fill="#e08b0c"/>
<circle cx="343.10" cy="316.90" r="2.25" fill="#e08b0c"/>
<line x1="289.40" y1="292.10" x2="313.60" y2="292.10" stroke="#1a1a1a" stroke-width="1.3"/>
<line x1="296.00" y1="286.60" x2="307.20" y2="286.60" stroke="#1a1a1a" stroke-width="1.3"/>
<line x1="296.00" y1="297.60" x2="307.20" y2="297.60" stroke="#1a1a1a" stroke-width="1.3"/>
<line x1="302.20" y1="286.60" x2="302.20" y2="297.60" stroke="#1a1a1a" stroke-width="1.105"/>
<line x1="326.20" y1="307.50" x2="350.00" y2="307.50" stroke="#1a1a1a" stroke-width="1.3"/>
<line x1="331.90" y1="305.20" x2="343.80" y2="305.20" stroke="#1a1a1a" stroke-width="1.3"/>
<line x1="331.90" y1="309.60" x2="343.80" y2="309.60" stroke="#1a1a1a" stroke-width="1.3"/>
<line x1="338.60" y1="305.20" x2="338.60" y2="309.60" stroke="#1a1a1a" stroke-width="1.105"/>
<line x1="47.40" y1="362.00" x2="47.40" y2="424.95" stroke="#1a1a1a" stroke-width="1.2"/>
<line x1="46.80" y1="424.40" x2="115.40" y2="424.40" stroke="#1a1a1a" stroke-width="1.2"/>
<line x1="44.40" y1="364.50" x2="47.40" y2="364.50" stroke="#1a1a1a" stroke-width="1.0"/>
<text x="41.30" y="367.45" font-size="8.3" text-anchor="end" fill="#2a2a2a" stroke="#2a2a2a">3</text>
<line x1="44.40" y1="384.80" x2="47.40" y2="384.80" stroke="#1a1a1a" stroke-width="1.0"/>
<text x="41.30" y="387.75" font-size="8.3" text-anchor="end" fill="#2a2a2a" stroke="#2a2a2a">2</text>
<line x1="44.40" y1="404.50" x2="47.40" y2="404.50" stroke="#1a1a1a" stroke-width="1.0"/>
<text x="41.30" y="407.45" font-size="8.3" text-anchor="end" fill="#2a2a2a" stroke="#2a2a2a">1</text>
<line x1="44.40" y1="424.40" x2="47.40" y2="424.40" stroke="#1a1a1a" stroke-width="1.0"/>
<text x="41.30" y="427.35" font-size="8.3" text-anchor="end" fill="#2a2a2a" stroke="#2a2a2a">0</text>
<line x1="67.20" y1="424.40" x2="67.20" y2="426.80" stroke="#1a1a1a" stroke-width="1.0"/>
<line x1="96.10" y1="424.40" x2="96.10" y2="426.80" stroke="#1a1a1a" stroke-width="1.0"/>
<text x="66.90" y="438.10" font-size="8.5" text-anchor="middle" fill="#2a2a2a" stroke="#2a2a2a" textLength="25.30" lengthAdjust="spacingAndGlyphs">Vehicle</text>
<text x="96.50" y="438.10" font-size="8.5" text-anchor="middle" fill="#2a2a2a" stroke="#2a2a2a" textLength="26.60" lengthAdjust="spacingAndGlyphs">Combo</text>
<text x="30.76" y="393.00" font-size="9.2" text-anchor="middle" fill="#2a2a2a" stroke="#2a2a2a" textLength="47.30" lengthAdjust="spacingAndGlyphs" transform="rotate(-90 30.76 393.00)">hIL-1β (pg/ml)</text>
<line x1="66.00" y1="366.00" x2="95.90" y2="366.00" stroke="#3a3a3a" stroke-width="1.2"/>
<polygon points="79.30,361.05 79.71,361.93 80.68,362.05 79.97,362.72 80.15,363.67 79.30,363.20 78.45,363.67 78.63,362.72 77.92,362.05 78.89,361.93" fill="#222" stroke="#222" stroke-width="0.3"/>
<polygon points="82.70,361.05 83.11,361.93 84.08,362.05 83.37,362.72 83.55,363.67 82.70,363.20 81.85,363.67 82.03,362.72 81.32,362.05 82.29,361.93" fill="#222" stroke="#222" stroke-width="0.3"/>
<circle cx="67.20" cy="371.40" r="2.25" fill="#5ba82c"/>
<circle cx="67.20" cy="399.10" r="2.25" fill="#5ba82c"/>
<circle cx="63.40" cy="413.10" r="2.25" fill="#5ba82c"/>
<circle cx="71.00" cy="413.10" r="2.25" fill="#5ba82c"/>
<circle cx="67.20" cy="414.90" r="2.25" fill="#5ba82c"/>
<circle cx="69.00" cy="417.20" r="2.25" fill="#5ba82c"/>
<circle cx="65.50" cy="419.30" r="2.25" fill="#5ba82c"/>
<line x1="57.40" y1="406.50" x2="76.90" y2="406.50" stroke="#1a1a1a" stroke-width="1.3"/>
<line x1="61.40" y1="400.10" x2="72.90" y2="400.10" stroke="#1a1a1a" stroke-width="1.3"/>
<line x1="61.40" y1="412.90" x2="72.90" y2="412.90" stroke="#1a1a1a" stroke-width="1.3"/>
<line x1="67.20" y1="400.10" x2="67.20" y2="412.90" stroke="#1a1a1a" stroke-width="1.105"/>
<line x1="87.10" y1="420.00" x2="106.50" y2="420.00" stroke="#1a1a1a" stroke-width="1.3"/>
<line x1="92.00" y1="419.00" x2="100.00" y2="419.00" stroke="#1a1a1a" stroke-width="1.3"/>
<line x1="92.00" y1="421.00" x2="100.00" y2="421.00" stroke="#1a1a1a" stroke-width="1.3"/>
<line x1="96.10" y1="419.00" x2="96.10" y2="421.00" stroke="#1a1a1a" stroke-width="1.105"/>
<circle cx="91.70" cy="416.90" r="2.25" fill="#f2b705"/>
<circle cx="102.50" cy="416.90" r="2.25" fill="#f2b705"/>
<circle cx="95.50" cy="419.30" r="2.25" fill="#f2b705"/>
<circle cx="99.10" cy="418.30" r="2.25" fill="#f2b705"/>
<circle cx="91.70" cy="422.30" r="2.25" fill="#f2b705"/>
<circle cx="95.50" cy="423.00" r="2.25" fill="#f2b705"/>
<circle cx="99.10" cy="423.00" r="2.25" fill="#f2b705"/>
<circle cx="102.50" cy="421.60" r="2.25" fill="#f2b705"/>
<line x1="172.10" y1="362.00" x2="172.10" y2="424.95" stroke="#1a1a1a" stroke-width="1.2"/>
<line x1="171.50" y1="424.40" x2="240.80" y2="424.40" stroke="#1a1a1a" stroke-width="1.2"/>
<line x1="169.10" y1="363.60" x2="172.10" y2="363.60" stroke="#1a1a1a" stroke-width="1.0"/>
<text x="166.60" y="366.55" font-size="8.3" text-anchor="end" fill="#2a2a2a" stroke="#2a2a2a">250</text>
<line x1="169.10" y1="376.00" x2="172.10" y2="376.00" stroke="#1a1a1a" stroke-width="1.0"/>
<text x="166.60" y="378.95" font-size="8.3" text-anchor="end" fill="#2a2a2a" stroke="#2a2a2a">200</text>
<line x1="169.10" y1="388.30" x2="172.10" y2="388.30" stroke="#1a1a1a" stroke-width="1.0"/>
<text x="166.60" y="391.25" font-size="8.3" text-anchor="end" fill="#2a2a2a" stroke="#2a2a2a">150</text>
<line x1="169.10" y1="400.50" x2="172.10" y2="400.50" stroke="#1a1a1a" stroke-width="1.0"/>
<text x="166.60" y="403.45" font-size="8.3" text-anchor="end" fill="#2a2a2a" stroke="#2a2a2a">100</text>
<line x1="169.10" y1="412.50" x2="172.10" y2="412.50" stroke="#1a1a1a" stroke-width="1.0"/>
<text x="166.60" y="415.45" font-size="8.3" text-anchor="end" fill="#2a2a2a" stroke="#2a2a2a">50</text>
<line x1="169.10" y1="424.40" x2="172.10" y2="424.40" stroke="#1a1a1a" stroke-width="1.0"/>
<text x="166.60" y="427.35" font-size="8.3" text-anchor="end" fill="#2a2a2a" stroke="#2a2a2a">0</text>
<line x1="192.20" y1="424.40" x2="192.20" y2="426.80" stroke="#1a1a1a" stroke-width="1.0"/>
<line x1="221.40" y1="424.40" x2="221.40" y2="426.80" stroke="#1a1a1a" stroke-width="1.0"/>
<text x="192.30" y="438.10" font-size="8.5" text-anchor="middle" fill="#2a2a2a" stroke="#2a2a2a" textLength="25.30" lengthAdjust="spacingAndGlyphs">Vehicle</text>
<text x="221.20" y="438.10" font-size="8.5" text-anchor="middle" fill="#2a2a2a" stroke="#2a2a2a" textLength="26.60" lengthAdjust="spacingAndGlyphs">Combo</text>
<text x="146.86" y="393.00" font-size="9.2" text-anchor="middle" fill="#2a2a2a" stroke="#2a2a2a" textLength="42.90" lengthAdjust="spacingAndGlyphs" transform="rotate(-90 146.86 393.00)">hIL-6 (pg/ml)</text>
<line x1="190.30" y1="366.80" x2="220.50" y2="366.80" stroke="#3a3a3a" stroke-width="1.2"/>
<polygon points="203.80,361.65 204.21,362.53 205.18,362.65 204.47,363.32 204.65,364.27 203.80,363.80 202.95,364.27 203.13,363.32 202.42,362.65 203.39,362.53" fill="#222" stroke="#222" stroke-width="0.3"/>
<polygon points="207.20,361.65 207.61,362.53 208.58,362.65 207.87,363.32 208.05,364.27 207.20,363.80 206.35,364.27 206.53,363.32 205.82,362.65 206.79,362.53" fill="#222" stroke="#222" stroke-width="0.3"/>
<circle cx="192.20" cy="370.20" r="2.25" fill="#5ba82c"/>
<circle cx="192.20" cy="393.40" r="2.25" fill="#5ba82c"/>
<circle cx="186.80" cy="412.60" r="2.25" fill="#5ba82c"/>
<circle cx="192.20" cy="411.30" r="2.25" fill="#5ba82c"/>
<circle cx="197.90" cy="412.60" r="2.25" fill="#5ba82c"/>
<circle cx="190.50" cy="416.60" r="2.25" fill="#5ba82c"/>
<circle cx="194.20" cy="415.30" r="2.25" fill="#5ba82c"/>
<line x1="182.10" y1="403.70" x2="201.90" y2="403.70" stroke="#1a1a1a" stroke-width="1.3"/>
<line x1="186.60" y1="397.50" x2="196.90" y2="397.50" stroke="#1a1a1a" stroke-width="1.3"/>
<line x1="186.60" y1="409.90" x2="196.90" y2="409.90" stroke="#1a1a1a" stroke-width="1.3"/>
<line x1="192.20" y1="397.50" x2="192.20" y2="409.90" stroke="#1a1a1a" stroke-width="1.105"/>
<line x1="211.70" y1="420.70" x2="231.20" y2="420.70" stroke="#1a1a1a" stroke-width="1.3"/>
<line x1="216.50" y1="418.70" x2="226.30" y2="418.70" stroke="#1a1a1a" stroke-width="1.3"/>
<line x1="216.50" y1="422.30" x2="226.30" y2="422.30" stroke="#1a1a1a" stroke-width="1.3"/>
<line x1="221.40" y1="418.70" x2="221.40" y2="422.30" stroke="#1a1a1a" stroke-width="1.105"/>
<circle cx="221.40" cy="413.10" r="2.25" fill="#f2b705"/>
<circle cx="221.40" cy="419.60" r="2.25" fill="#f2b705"/>
<circle cx="213.50" cy="422.00" r="2.25" fill="#f2b705"/>
<circle cx="216.50" cy="422.50" r="2.25" fill="#f2b705"/>
<circle cx="219.50" cy="422.80" r="2.25" fill="#f2b705"/>
<circle cx="222.50" cy="422.80" r="2.25" fill="#f2b705"/>
<circle cx="225.50" cy="422.50" r="2.25" fill="#f2b705"/>
<circle cx="228.50" cy="421.80" r="2.25" fill="#f2b705"/>
<circle cx="231.00" cy="421.80" r="2.25" fill="#f2b705"/>
<line x1="300.90" y1="362.00" x2="300.90" y2="424.95" stroke="#1a1a1a" stroke-width="1.2"/>
<line x1="300.30" y1="424.40" x2="369.30" y2="424.40" stroke="#1a1a1a" stroke-width="1.2"/>
<line x1="297.90" y1="364.40" x2="300.90" y2="364.40" stroke="#1a1a1a" stroke-width="1.0"/>
<text x="294.40" y="367.35" font-size="8.3" text-anchor="end" fill="#2a2a2a" stroke="#2a2a2a" textLength="16.40" lengthAdjust="spacingAndGlyphs">2500</text>
<line x1="297.90" y1="376.30" x2="300.90" y2="376.30" stroke="#1a1a1a" stroke-width="1.0"/>
<text x="294.40" y="379.25" font-size="8.3" text-anchor="end" fill="#2a2a2a" stroke="#2a2a2a" textLength="16.40" lengthAdjust="spacingAndGlyphs">2000</text>
<line x1="297.90" y1="388.50" x2="300.90" y2="388.50" stroke="#1a1a1a" stroke-width="1.0"/>
<text x="294.40" y="391.45" font-size="8.3" text-anchor="end" fill="#2a2a2a" stroke="#2a2a2a" textLength="16.40" lengthAdjust="spacingAndGlyphs">1500</text>
<line x1="297.90" y1="400.40" x2="300.90" y2="400.40" stroke="#1a1a1a" stroke-width="1.0"/>
<text x="294.40" y="403.35" font-size="8.3" text-anchor="end" fill="#2a2a2a" stroke="#2a2a2a" textLength="16.40" lengthAdjust="spacingAndGlyphs">1000</text>
<line x1="297.90" y1="412.40" x2="300.90" y2="412.40" stroke="#1a1a1a" stroke-width="1.0"/>
<text x="294.40" y="415.35" font-size="8.3" text-anchor="end" fill="#2a2a2a" stroke="#2a2a2a" textLength="12.30" lengthAdjust="spacingAndGlyphs">500</text>
<line x1="297.90" y1="424.50" x2="300.90" y2="424.50" stroke="#1a1a1a" stroke-width="1.0"/>
<text x="294.40" y="427.45" font-size="8.3" text-anchor="end" fill="#2a2a2a" stroke="#2a2a2a" textLength="4.10" lengthAdjust="spacingAndGlyphs">0</text>
<line x1="321.30" y1="424.40" x2="321.30" y2="426.80" stroke="#1a1a1a" stroke-width="1.0"/>
<line x1="350.50" y1="424.40" x2="350.50" y2="426.80" stroke="#1a1a1a" stroke-width="1.0"/>
<text x="321.20" y="438.10" font-size="8.5" text-anchor="middle" fill="#2a2a2a" stroke="#2a2a2a" textLength="25.30" lengthAdjust="spacingAndGlyphs">Vehicle</text>
<text x="349.80" y="438.10" font-size="8.5" text-anchor="middle" fill="#2a2a2a" stroke="#2a2a2a" textLength="26.60" lengthAdjust="spacingAndGlyphs">Combo</text>
<text x="271.66" y="393.00" font-size="9.2" text-anchor="middle" fill="#2a2a2a" stroke="#2a2a2a" textLength="42.90" lengthAdjust="spacingAndGlyphs" transform="rotate(-90 271.66 393.00)">hIL-8 (pg/ml)</text>
<line x1="319.50" y1="364.40" x2="349.50" y2="364.40" stroke="#3a3a3a" stroke-width="1.2"/>
<polygon points="332.70,359.45 333.11,360.33 334.08,360.45 333.37,361.12 333.55,362.07 332.70,361.60 331.85,362.07 332.03,361.12 331.32,360.45 332.29,360.33" fill="#222" stroke="#222" stroke-width="0.3"/>
<polygon points="336.10,359.45 336.51,360.33 337.48,360.45 336.77,361.12 336.95,362.07 336.10,361.60 335.25,362.07 335.43,361.12 334.72,360.45 335.69,360.33" fill="#222" stroke="#222" stroke-width="0.3"/>
<circle cx="321.30" cy="370.40" r="2.25" fill="#5ba82c"/>
<circle cx="315.60" cy="414.60" r="2.25" fill="#5ba82c"/>
<circle cx="325.30" cy="414.10" r="2.25" fill="#5ba82c"/>
<circle cx="317.40" cy="417.70" r="2.25" fill="#5ba82c"/>
<circle cx="321.40" cy="416.70" r="2.25" fill="#5ba82c"/>
<circle cx="325.30" cy="418.50" r="2.25" fill="#5ba82c"/>
<circle cx="321.30" cy="421.30" r="2.25" fill="#5ba82c"/>
<line x1="311.20" y1="409.50" x2="330.80" y2="409.50" stroke="#1a1a1a" stroke-width="1.3"/>
<line x1="315.90" y1="403.00" x2="326.00" y2="403.00" stroke="#1a1a1a" stroke-width="1.3"/>
<line x1="315.90" y1="409.50" x2="326.00" y2="409.50" stroke="#1a1a1a" stroke-width="1.3"/>
<line x1="321.30" y1="403.00" x2="321.30" y2="409.50" stroke="#1a1a1a" stroke-width="1.105"/>
<line x1="341.00" y1="421.60" x2="360.00" y2="421.60" stroke="#1a1a1a" stroke-width="1.3"/>
<line x1="346.00" y1="421.60" x2="355.00" y2="421.60" stroke="#1a1a1a" stroke-width="1.3"/>
<line x1="346.00" y1="421.60" x2="355.00" y2="421.60" stroke="#1a1a1a" stroke-width="1.3"/>
<line x1="350.50" y1="421.60" x2="350.50" y2="421.60" stroke="#1a1a1a" stroke-width="1.105"/>
<circle cx="352.40" cy="419.20" r="2.25" fill="#f2b705"/>
<circle cx="343.00" cy="420.50" r="2.25" fill="#f2b705"/>
<circle cx="346.00" cy="422.00" r="2.25" fill="#f2b705"/>
<circle cx="349.50" cy="423.00" r="2.25" fill="#f2b705"/>
<circle cx="353.00" cy="423.00" r="2.25" fill="#f2b705"/>
<circle cx="356.50" cy="422.50" r="2.25" fill="#f2b705"/>
<circle cx="360.00" cy="421.80" r="2.25" fill="#f2b705"/>
<circle cx="362.00" cy="421.80" r="2.25" fill="#f2b705"/>
<line x1="429.60" y1="362.00" x2="429.60" y2="424.95" stroke="#1a1a1a" stroke-width="1.2"/>
<line x1="429.00" y1="424.40" x2="498.00" y2="424.40" stroke="#1a1a1a" stroke-width="1.2"/>
<line x1="426.60" y1="364.80" x2="429.60" y2="364.80" stroke="#1a1a1a" stroke-width="1.0"/>
<text x="423.40" y="367.75" font-size="8.3" text-anchor="end" fill="#2a2a2a" stroke="#2a2a2a">15</text>
<line x1="426.60" y1="384.60" x2="429.60" y2="384.60" stroke="#1a1a1a" stroke-width="1.0"/>
<text x="423.40" y="387.55" font-size="8.3" text-anchor="end" fill="#2a2a2a" stroke="#2a2a2a">10</text>
<line x1="426.60" y1="404.50" x2="429.60" y2="404.50" stroke="#1a1a1a" stroke-width="1.0"/>
<text x="423.40" y="407.45" font-size="8.3" text-anchor="end" fill="#2a2a2a" stroke="#2a2a2a">5</text>
<line x1="426.60" y1="424.50" x2="429.60" y2="424.50" stroke="#1a1a1a" stroke-width="1.0"/>
<text x="423.40" y="427.45" font-size="8.3" text-anchor="end" fill="#2a2a2a" stroke="#2a2a2a">0</text>
<line x1="449.80" y1="424.40" x2="449.80" y2="426.80" stroke="#1a1a1a" stroke-width="1.0"/>
<line x1="479.10" y1="424.40" x2="479.10" y2="426.80" stroke="#1a1a1a" stroke-width="1.0"/>
<text x="449.30" y="438.10" font-size="8.5" text-anchor="middle" fill="#2a2a2a" stroke="#2a2a2a" textLength="25.30" lengthAdjust="spacingAndGlyphs">Vehicle</text>
<text x="478.00" y="438.10" font-size="8.5" text-anchor="middle" fill="#2a2a2a" stroke="#2a2a2a" textLength="26.60" lengthAdjust="spacingAndGlyphs">Combo</text>
<text x="408.76" y="393.00" font-size="9.2" text-anchor="middle" fill="#2a2a2a" stroke="#2a2a2a" textLength="49.30" lengthAdjust="spacingAndGlyphs" transform="rotate(-90 408.76 393.00)">hTNFα (pg/ml)</text>
<line x1="447.40" y1="367.30" x2="477.60" y2="367.30" stroke="#3a3a3a" stroke-width="1.2"/>
<polygon points="460.50,362.35 460.91,363.23 461.88,363.35 461.17,364.02 461.35,364.97 460.50,364.50 459.65,364.97 459.83,364.02 459.12,363.35 460.09,363.23" fill="#222" stroke="#222" stroke-width="0.3"/>
<polygon points="463.90,362.35 464.31,363.23 465.28,363.35 464.57,364.02 464.75,364.97 463.90,364.50 463.05,364.97 463.23,364.02 462.52,363.35 463.49,363.23" fill="#222" stroke="#222" stroke-width="0.3"/>
<circle cx="449.80" cy="377.80" r="2.25" fill="#5ba82c"/>
<circle cx="449.80" cy="403.80" r="2.25" fill="#5ba82c"/>
<circle cx="442.60" cy="416.70" r="2.25" fill="#5ba82c"/>
<circle cx="445.90" cy="417.30" r="2.25" fill="#5ba82c"/>
<circle cx="449.80" cy="419.90" r="2.25" fill="#5ba82c"/>
<circle cx="453.40" cy="418.90" r="2.25" fill="#5ba82c"/>
<circle cx="457.00" cy="417.30" r="2.25" fill="#5ba82c"/>
<line x1="439.10" y1="409.50" x2="458.90" y2="409.50" stroke="#1a1a1a" stroke-width="1.3"/>
<line x1="443.80" y1="403.80" x2="453.80" y2="403.80" stroke="#1a1a1a" stroke-width="1.3"/>
<line x1="443.80" y1="415.30" x2="453.80" y2="415.30" stroke="#1a1a1a" stroke-width="1.3"/>
<line x1="449.80" y1="403.80" x2="449.80" y2="415.30" stroke="#1a1a1a" stroke-width="1.105"/>
<line x1="468.30" y1="421.30" x2="488.50" y2="421.30" stroke="#1a1a1a" stroke-width="1.3"/>
<line x1="473.30" y1="418.20" x2="483.80" y2="418.20" stroke="#1a1a1a" stroke-width="1.3"/>
<line x1="473.30" y1="423.50" x2="483.80" y2="423.50" stroke="#1a1a1a" stroke-width="1.3"/>
<line x1="479.10" y1="418.20" x2="479.10" y2="423.50" stroke="#1a1a1a" stroke-width="1.105"/>
<circle cx="479.10" cy="405.20" r="2.25" fill="#f2b705"/>
<circle cx="471.00" cy="422.00" r="2.25" fill="#f2b705"/>
<circle cx="474.00" cy="423.00" r="2.25" fill="#f2b705"/>
<circle cx="477.00" cy="423.50" r="2.25" fill="#f2b705"/>
<circle cx="480.00" cy="423.50" r="2.25" fill="#f2b705"/>
<circle cx="483.00" cy="423.50" r="2.25" fill="#f2b705"/>
<circle cx="486.00" cy="423.00" r="2.25" fill="#f2b705"/>
<circle cx="488.00" cy="422.50" r="2.25" fill="#f2b705"/>
<circle cx="478.50" cy="421.00" r="2.25" fill="#f2b705"/>
<line x1="47.60" y1="480.00" x2="47.60" y2="545.35" stroke="#1a1a1a" stroke-width="1.2"/>
<line x1="47.00" y1="544.80" x2="125.00" y2="544.80" stroke="#1a1a1a" stroke-width="1.2"/>
<line x1="44.60" y1="481.60" x2="47.60" y2="481.60" stroke="#1a1a1a" stroke-width="1.0"/>
<text x="41.40" y="484.55" font-size="8.3" text-anchor="end" fill="#2a2a2a" stroke="#2a2a2a" textLength="12.30" lengthAdjust="spacingAndGlyphs">150</text>
<line x1="44.60" y1="503.10" x2="47.60" y2="503.10" stroke="#1a1a1a" stroke-width="1.0"/>
<text x="41.40" y="506.05" font-size="8.3" text-anchor="end" fill="#2a2a2a" stroke="#2a2a2a" textLength="12.30" lengthAdjust="spacingAndGlyphs">100</text>
<line x1="44.60" y1="524.00" x2="47.60" y2="524.00" stroke="#1a1a1a" stroke-width="1.0"/>
<text x="41.40" y="526.95" font-size="8.3" text-anchor="end" fill="#2a2a2a" stroke="#2a2a2a" textLength="8.20" lengthAdjust="spacingAndGlyphs">50</text>
<line x1="44.60" y1="544.80" x2="47.60" y2="544.80" stroke="#1a1a1a" stroke-width="1.0"/>
<text x="41.40" y="547.75" font-size="8.3" text-anchor="end" fill="#2a2a2a" stroke="#2a2a2a" textLength="4.10" lengthAdjust="spacingAndGlyphs">0</text>
<line x1="59.60" y1="544.80" x2="59.60" y2="547.20" stroke="#1a1a1a" stroke-width="1.0"/>
<line x1="77.60" y1="544.80" x2="77.60" y2="547.20" stroke="#1a1a1a" stroke-width="1.0"/>
<line x1="95.80" y1="544.80" x2="95.80" y2="547.20" stroke="#1a1a1a" stroke-width="1.0"/>
<line x1="113.80" y1="544.80" x2="113.80" y2="547.20" stroke="#1a1a1a" stroke-width="1.0"/>
<text x="59.80" y="558.00" font-size="8.5" text-anchor="middle" fill="#2a2a2a" stroke="#2a2a2a" textLength="13.00" lengthAdjust="spacingAndGlyphs">Veh</text>
<text x="77.50" y="558.00" font-size="8.5" text-anchor="middle" fill="#2a2a2a" stroke="#2a2a2a" textLength="17.50" lengthAdjust="spacingAndGlyphs">Tram</text>
<text x="95.20" y="558.00" font-size="8.5" text-anchor="middle" fill="#2a2a2a" stroke="#2a2a2a" textLength="12.90" lengthAdjust="spacingAndGlyphs">S63</text>
<text x="119.60" y="558.00" font-size="8.5" text-anchor="middle" fill="#2a2a2a" stroke="#2a2a2a" textLength="26.20" lengthAdjust="spacingAndGlyphs">Combo</text>
<text x="22.76" y="513.30" font-size="9.2" text-anchor="middle" fill="#2a2a2a" stroke="#2a2a2a" textLength="69.30" lengthAdjust="spacingAndGlyphs" transform="rotate(-90 22.76 513.30)">Spleen weight (mg)</text>
<line x1="57.60" y1="483.80" x2="117.30" y2="483.80" stroke="#3a3a3a" stroke-width="1.2"/>
<polygon points="87.30,478.75 87.71,479.63 88.68,479.75 87.97,480.42 88.15,481.37 87.30,480.90 86.45,481.37 86.63,480.42 85.92,479.75 86.89,479.63" fill="#222" stroke="#222" stroke-width="0.3"/>
<line x1="57.60" y1="490.40" x2="93.90" y2="490.40" stroke="#3a3a3a" stroke-width="1.2"/>
<polygon points="75.80,485.15 76.21,486.03 77.18,486.15 76.47,486.82 76.65,487.77 75.80,487.30 74.95,487.77 75.13,486.82 74.42,486.15 75.39,486.03" fill="#222" stroke="#222" stroke-width="0.3"/>
<line x1="57.60" y1="497.80" x2="76.50" y2="497.80" stroke="#3a3a3a" stroke-width="1.2"/>
<text x="67.00" y="496.10" font-size="7.8" text-anchor="middle" fill="#333" stroke="#333" textLength="6.80" lengthAdjust="spacingAndGlyphs">ns</text>
<circle cx="59.60" cy="503.00" r="1.55" fill="#5ba82c"/>
<circle cx="61.60" cy="506.50" r="1.55" fill="#5ba82c"/>
<circle cx="57.60" cy="509.20" r="1.55" fill="#5ba82c"/>
<circle cx="59.60" cy="512.00" r="1.55" fill="#5ba82c"/>
<circle cx="57.00" cy="514.50" r="1.55" fill="#5ba82c"/>
<circle cx="62.00" cy="514.50" r="1.55" fill="#5ba82c"/>
<circle cx="59.60" cy="518.10" r="1.55" fill="#5ba82c"/>
<circle cx="57.60" cy="525.80" r="1.55" fill="#5ba82c"/>
<circle cx="61.60" cy="525.80" r="1.55" fill="#5ba82c"/>
<circle cx="77.60" cy="516.50" r="1.55" fill="#4ba3e3"/>
<circle cx="75.50" cy="520.80" r="1.55" fill="#4ba3e3"/>
<circle cx="79.60" cy="520.80" r="1.55" fill="#4ba3e3"/>
<circle cx="81.60" cy="520.80" r="1.55" fill="#4ba3e3"/>
<circle cx="73.50" cy="524.50" r="1.55" fill="#4ba3e3"/>
<circle cx="77.60" cy="524.50" r="1.55" fill="#4ba3e3"/>
<circle cx="79.60" cy="530.40" r="1.55" fill="#4ba3e3"/>
<circle cx="75.80" cy="533.80" r="1.55" fill="#4ba3e3"/>
<circle cx="93.90" cy="507.60" r="1.55" fill="#ad1030"/>
<circle cx="97.60" cy="510.10" r="1.55" fill="#ad1030"/>
<circle cx="95.80" cy="519.30" r="1.55" fill="#ad1030"/>
<circle cx="91.20" cy="528.80" r="1.55" fill="#ad1030"/>
<circle cx="99.60" cy="528.80" r="1.55" fill="#ad1030"/>
<circle cx="93.50" cy="531.20" r="1.55" fill="#ad1030"/>
<circle cx="95.80" cy="531.60" r="1.55" fill="#ad1030"/>
<circle cx="98.10" cy="530.70" r="1.55" fill="#ad1030"/>
<circle cx="95.80" cy="536.50" r="1.55" fill="#ad1030"/>
<circle cx="111.90" cy="516.20" r="1.55" fill="#e08b0c"/>
<circle cx="115.80" cy="517.30" r="1.55" fill="#e08b0c"/>
<circle cx="111.90" cy="524.50" r="1.55" fill="#e08b0c"/>
<circle cx="115.80" cy="524.00" r="1.55" fill="#e08b0c"/>
<circle cx="109.60" cy="528.50" r="1.55" fill="#e08b0c"/>
<circle cx="117.30" cy="527.60" r="1.55" fill="#e08b0c"/>
<circle cx="113.80" cy="530.10" r="1.55" fill="#e08b0c"/>
<circle cx="111.90" cy="535.00" r="1.55" fill="#e08b0c"/>
<line x1="54.50" y1="514.70" x2="65.80" y2="514.70" stroke="#1a1a1a" stroke-width="1.2"/>
<line x1="57.00" y1="511.60" x2="62.70" y2="511.60" stroke="#1a1a1a" stroke-width="1.2"/>
<line x1="57.00" y1="516.80" x2="62.70" y2="516.80" stroke="#1a1a1a" stroke-width="1.2"/>
<line x1="59.60" y1="511.60" x2="59.60" y2="516.80" stroke="#1a1a1a" stroke-width="1.02"/>
<line x1="71.50" y1="524.50" x2="83.80" y2="524.50" stroke="#1a1a1a" stroke-width="1.2"/>
<line x1="75.00" y1="522.40" x2="80.50" y2="522.40" stroke="#1a1a1a" stroke-width="1.2"/>
<line x1="75.00" y1="526.00" x2="80.50" y2="526.00" stroke="#1a1a1a" stroke-width="1.2"/>
<line x1="77.60" y1="522.40" x2="77.60" y2="526.00" stroke="#1a1a1a" stroke-width="1.02"/>
<line x1="89.90" y1="525.00" x2="101.90" y2="525.00" stroke="#1a1a1a" stroke-width="1.2"/>
<line x1="93.00" y1="521.50" x2="98.80" y2="521.50" stroke="#1a1a1a" stroke-width="1.2"/>
<line x1="93.00" y1="528.50" x2="98.80" y2="528.50" stroke="#1a1a1a" stroke-width="1.2"/>
<line x1="95.80" y1="521.50" x2="95.80" y2="528.50" stroke="#1a1a1a" stroke-width="1.02"/>
<line x1="107.80" y1="526.50" x2="119.60" y2="526.50" stroke="#1a1a1a" stroke-width="1.2"/>
<line x1="111.00" y1="524.20" x2="116.50" y2="524.20" stroke="#1a1a1a" stroke-width="1.2"/>
<line x1="111.00" y1="528.50" x2="116.50" y2="528.50" stroke="#1a1a1a" stroke-width="1.2"/>
<line x1="113.80" y1="524.20" x2="113.80" y2="528.50" stroke="#1a1a1a" stroke-width="1.02"/>
<line x1="172.10" y1="479.50" x2="172.10" y2="545.45" stroke="#1a1a1a" stroke-width="1.2"/>
<line x1="171.50" y1="544.90" x2="250.75" y2="544.90" stroke="#1a1a1a" stroke-width="1.2"/>
<line x1="169.10" y1="480.80" x2="172.10" y2="480.80" stroke="#1a1a1a" stroke-width="1.0"/>
<text x="166.10" y="483.75" font-size="8.3" text-anchor="end" fill="#2a2a2a" stroke="#2a2a2a">50</text>
<line x1="169.10" y1="493.50" x2="172.10" y2="493.50" stroke="#1a1a1a" stroke-width="1.0"/>
<text x="166.10" y="496.45" font-size="8.3" text-anchor="end" fill="#2a2a2a" stroke="#2a2a2a">40</text>
<line x1="169.10" y1="506.50" x2="172.10" y2="506.50" stroke="#1a1a1a" stroke-width="1.0"/>
<text x="166.10" y="509.45" font-size="8.3" text-anchor="end" fill="#2a2a2a" stroke="#2a2a2a">30</text>
<line x1="169.10" y1="519.20" x2="172.10" y2="519.20" stroke="#1a1a1a" stroke-width="1.0"/>
<text x="166.10" y="522.15" font-size="8.3" text-anchor="end" fill="#2a2a2a" stroke="#2a2a2a">20</text>
<line x1="169.10" y1="532.00" x2="172.10" y2="532.00" stroke="#1a1a1a" stroke-width="1.0"/>
<text x="166.10" y="534.95" font-size="8.3" text-anchor="end" fill="#2a2a2a" stroke="#2a2a2a">10</text>
<line x1="169.10" y1="544.90" x2="172.10" y2="544.90" stroke="#1a1a1a" stroke-width="1.0"/>
<text x="166.10" y="547.85" font-size="8.3" text-anchor="end" fill="#2a2a2a" stroke="#2a2a2a">0</text>
<line x1="184.30" y1="544.90" x2="184.30" y2="547.30" stroke="#1a1a1a" stroke-width="1.0"/>
<line x1="202.30" y1="544.90" x2="202.30" y2="547.30" stroke="#1a1a1a" stroke-width="1.0"/>
<line x1="220.50" y1="544.90" x2="220.50" y2="547.30" stroke="#1a1a1a" stroke-width="1.0"/>
<line x1="238.50" y1="544.90" x2="238.50" y2="547.30" stroke="#1a1a1a" stroke-width="1.0"/>
<text x="184.50" y="558.00" font-size="8.5" text-anchor="middle" fill="#2a2a2a" stroke="#2a2a2a" textLength="13.50" lengthAdjust="spacingAndGlyphs">Veh</text>
<text x="202.50" y="558.00" font-size="8.5" text-anchor="middle" fill="#2a2a2a" stroke="#2a2a2a" textLength="17.50" lengthAdjust="spacingAndGlyphs">Tram</text>
<text x="220.50" y="558.00" font-size="8.5" text-anchor="middle" fill="#2a2a2a" stroke="#2a2a2a" textLength="13.50" lengthAdjust="spacingAndGlyphs">S63</text>
<text x="243.75" y="558.00" font-size="8.5" text-anchor="middle" fill="#2a2a2a" stroke="#2a2a2a" textLength="26.00" lengthAdjust="spacingAndGlyphs">Combo</text>
<text x="150.36" y="511.35" font-size="9.2" text-anchor="middle" fill="#2a2a2a" stroke="#2a2a2a" textLength="93.50" lengthAdjust="spacingAndGlyphs" transform="rotate(-90 150.36 511.35)">hCD45<tspan dy="-3" font-size="6">+</tspan><tspan dy="3"> cells / spleen x 10</tspan><tspan dy="-3" font-size="6">6</tspan></text>
<line x1="181.10" y1="475.70" x2="234.60" y2="475.70" stroke="#3a3a3a" stroke-width="1.2"/>
<polygon points="206.50,470.45 206.91,471.33 207.88,471.45 207.17,472.12 207.35,473.07 206.50,472.60 205.65,473.07 205.83,472.12 205.12,471.45 206.09,471.33" fill="#222" stroke="#222" stroke-width="0.3"/>
<polygon points="209.90,470.45 210.31,471.33 211.28,471.45 210.57,472.12 210.75,473.07 209.90,472.60 209.05,473.07 209.23,472.12 208.52,471.45 209.49,471.33" fill="#222" stroke="#222" stroke-width="0.3"/>
<line x1="182.30" y1="483.40" x2="217.40" y2="483.40" stroke="#3a3a3a" stroke-width="1.2"/>
<text x="199.50" y="481.70" font-size="7.8" text-anchor="middle" fill="#333" stroke="#333" textLength="6.80" lengthAdjust="spacingAndGlyphs">ns</text>
<line x1="182.60" y1="490.00" x2="201.50" y2="490.00" stroke="#3a3a3a" stroke-width="1.2"/>
<polygon points="192.00,484.85 192.41,485.73 193.38,485.85 192.67,486.52 192.85,487.47 192.00,487.00 191.15,487.47 191.33,486.52 190.62,485.85 191.59,485.73" fill="#222" stroke="#222" stroke-width="0.3"/>
<circle cx="184.30" cy="497.70" r="1.55" fill="#5ba82c"/>
<circle cx="187.40" cy="508.80" r="1.55" fill="#5ba82c"/>
<circle cx="181.10" cy="511.50" r="1.55" fill="#5ba82c"/>
<circle cx="185.10" cy="512.30" r="1.55" fill="#5ba82c"/>
<circle cx="184.30" cy="516.20" r="1.55" fill="#5ba82c"/>
<circle cx="185.10" cy="520.00" r="1.55" fill="#5ba82c"/>
<circle cx="184.30" cy="529.50" r="1.55" fill="#5ba82c"/>
<circle cx="184.30" cy="538.50" r="1.55" fill="#5ba82c"/>
<circle cx="202.30" cy="523.10" r="1.55" fill="#4ba3e3"/>
<circle cx="197.70" cy="525.10" r="1.55" fill="#4ba3e3"/>
<circle cx="206.90" cy="525.40" r="1.55" fill="#4ba3e3"/>
<circle cx="200.50" cy="527.50" r="1.55" fill="#4ba3e3"/>
<circle cx="204.00" cy="527.50" r="1.55" fill="#4ba3e3"/>
<circle cx="202.30" cy="530.80" r="1.55" fill="#4ba3e3"/>
<circle cx="204.60" cy="534.60" r="1.55" fill="#4ba3e3"/>
<circle cx="200.80" cy="538.50" r="1.55" fill="#4ba3e3"/>
<circle cx="220.50" cy="490.00" r="1.55" fill="#ad1030"/>
<circle cx="220.50" cy="524.60" r="1.55" fill="#ad1030"/>
<circle cx="220.50" cy="529.20" r="1.55" fill="#ad1030"/>
<circle cx="216.20" cy="533.80" r="1.55" fill="#ad1030"/>
<circle cx="220.50" cy="534.90" r="1.55" fill="#ad1030"/>
<circle cx="224.60" cy="533.40" r="1.55" fill="#ad1030"/>
<circle cx="220.50" cy="541.10" r="1.55" fill="#ad1030"/>
<circle cx="236.50" cy="525.40" r="1.55" fill="#e08b0c"/>
<circle cx="240.50" cy="525.40" r="1.55" fill="#e08b0c"/>
<circle cx="236.90" cy="530.50" r="1.55" fill="#e08b0c"/>
<circle cx="240.50" cy="532.00" r="1.55" fill="#e08b0c"/>
<circle cx="235.00" cy="533.00" r="1.55" fill="#e08b0c"/>
<circle cx="234.00" cy="537.70" r="1.55" fill="#e08b0c"/>
<circle cx="236.50" cy="537.70" r="1.55" fill="#e08b0c"/>
<circle cx="239.00" cy="537.70" r="1.55" fill="#e08b0c"/>
<circle cx="241.50" cy="537.70" r="1.55" fill="#e08b0c"/>
<circle cx="244.00" cy="537.70" r="1.55" fill="#e08b0c"/>
<line x1="178.50" y1="516.90" x2="190.00" y2="516.90" stroke="#1a1a1a" stroke-width="1.2"/>
<line x1="181.50" y1="512.30" x2="187.20" y2="512.30" stroke="#1a1a1a" stroke-width="1.2"/>
<line x1="181.50" y1="521.50" x2="187.20" y2="521.50" stroke="#1a1a1a" stroke-width="1.2"/>
<line x1="184.30" y1="512.30" x2="184.30" y2="521.50" stroke="#1a1a1a" stroke-width="1.02"/>
<line x1="196.20" y1="529.20" x2="207.70" y2="529.20" stroke="#1a1a1a" stroke-width="1.2"/>
<line x1="199.50" y1="527.70" x2="205.00" y2="527.70" stroke="#1a1a1a" stroke-width="1.2"/>
<line x1="199.50" y1="530.80" x2="205.00" y2="530.80" stroke="#1a1a1a" stroke-width="1.2"/>
<line x1="202.30" y1="527.70" x2="202.30" y2="530.80" stroke="#1a1a1a" stroke-width="1.02"/>
<line x1="214.90" y1="528.50" x2="226.60" y2="528.50" stroke="#1a1a1a" stroke-width="1.2"/>
<line x1="217.40" y1="523.40" x2="223.50" y2="523.40" stroke="#1a1a1a" stroke-width="1.2"/>
<line x1="217.40" y1="533.50" x2="223.50" y2="533.50" stroke="#1a1a1a" stroke-width="1.2"/>
<line x1="220.50" y1="523.40" x2="220.50" y2="533.50" stroke="#1a1a1a" stroke-width="1.02"/>
<line x1="232.30" y1="533.50" x2="243.80" y2="533.50" stroke="#1a1a1a" stroke-width="1.2"/>
<line x1="235.50" y1="532.30" x2="241.50" y2="532.30" stroke="#1a1a1a" stroke-width="1.2"/>
<line x1="235.50" y1="535.40" x2="241.50" y2="535.40" stroke="#1a1a1a" stroke-width="1.2"/>
<line x1="238.50" y1="532.30" x2="238.50" y2="535.40" stroke="#1a1a1a" stroke-width="1.02"/>
<line x1="301.00" y1="479.50" x2="301.00" y2="545.45" stroke="#1a1a1a" stroke-width="1.2"/>
<line x1="300.40" y1="544.90" x2="377.50" y2="544.90" stroke="#1a1a1a" stroke-width="1.2"/>
<line x1="298.00" y1="481.20" x2="301.00" y2="481.20" stroke="#1a1a1a" stroke-width="1.0"/>
<text x="295.00" y="484.15" font-size="8.3" text-anchor="end" fill="#2a2a2a" stroke="#2a2a2a">20</text>
<line x1="298.00" y1="497.30" x2="301.00" y2="497.30" stroke="#1a1a1a" stroke-width="1.0"/>
<text x="295.00" y="500.25" font-size="8.3" text-anchor="end" fill="#2a2a2a" stroke="#2a2a2a">15</text>
<line x1="298.00" y1="513.20" x2="301.00" y2="513.20" stroke="#1a1a1a" stroke-width="1.0"/>
<text x="295.00" y="516.15" font-size="8.3" text-anchor="end" fill="#2a2a2a" stroke="#2a2a2a">10</text>
<line x1="298.00" y1="529.00" x2="301.00" y2="529.00" stroke="#1a1a1a" stroke-width="1.0"/>
<text x="295.00" y="531.95" font-size="8.3" text-anchor="end" fill="#2a2a2a" stroke="#2a2a2a">5</text>
<line x1="298.00" y1="544.90" x2="301.00" y2="544.90" stroke="#1a1a1a" stroke-width="1.0"/>
<text x="295.00" y="547.85" font-size="8.3" text-anchor="end" fill="#2a2a2a" stroke="#2a2a2a">0</text>
<line x1="312.70" y1="544.90" x2="312.70" y2="547.30" stroke="#1a1a1a" stroke-width="1.0"/>
<line x1="330.10" y1="544.90" x2="330.10" y2="547.30" stroke="#1a1a1a" stroke-width="1.0"/>
<line x1="347.80" y1="544.90" x2="347.80" y2="547.30" stroke="#1a1a1a" stroke-width="1.0"/>
<line x1="365.30" y1="544.90" x2="365.30" y2="547.30" stroke="#1a1a1a" stroke-width="1.0"/>
<text x="313.00" y="558.00" font-size="8.5" text-anchor="middle" fill="#2a2a2a" stroke="#2a2a2a" textLength="13.50" lengthAdjust="spacingAndGlyphs">Veh</text>
<text x="330.30" y="558.00" font-size="8.5" text-anchor="middle" fill="#2a2a2a" stroke="#2a2a2a" textLength="18.00" lengthAdjust="spacingAndGlyphs">Tram</text>
<text x="347.60" y="558.00" font-size="8.5" text-anchor="middle" fill="#2a2a2a" stroke="#2a2a2a" textLength="12.80" lengthAdjust="spacingAndGlyphs">S63</text>
<text x="371.20" y="558.00" font-size="8.5" text-anchor="middle" fill="#2a2a2a" stroke="#2a2a2a" textLength="26.20" lengthAdjust="spacingAndGlyphs">Combo</text>
<text x="280.96" y="511.00" font-size="9.2" text-anchor="middle" fill="#2a2a2a" stroke="#2a2a2a" textLength="78.50" lengthAdjust="spacingAndGlyphs" transform="rotate(-90 280.96 511.00)">hCD45<tspan dy="-3" font-size="6">+</tspan><tspan dy="3"> BM cells (10</tspan><tspan dy="-3" font-size="6">6</tspan><tspan dy="3">)</tspan></text>
<circle cx="313.00" cy="487.00" r="1.55" fill="#5ba82c"/>
<circle cx="313.00" cy="514.60" r="1.55" fill="#5ba82c"/>
<circle cx="313.00" cy="524.40" r="1.55" fill="#5ba82c"/>
<circle cx="311.30" cy="532.50" r="1.55" fill="#5ba82c"/>
<circle cx="314.60" cy="534.20" r="1.55" fill="#5ba82c"/>
<circle cx="310.00" cy="539.10" r="1.55" fill="#5ba82c"/>
<circle cx="312.70" cy="542.00" r="1.55" fill="#5ba82c"/>
<circle cx="316.20" cy="541.70" r="1.55" fill="#5ba82c"/>
<circle cx="330.60" cy="519.50" r="1.55" fill="#4ba3e3"/>
<circle cx="332.30" cy="527.60" r="1.55" fill="#4ba3e3"/>
<circle cx="328.50" cy="531.40" r="1.55" fill="#4ba3e3"/>
<circle cx="333.90" cy="536.30" r="1.55" fill="#4ba3e3"/>
<circle cx="328.50" cy="537.90" r="1.55" fill="#4ba3e3"/>
<circle cx="327.70" cy="539.10" r="1.55" fill="#4ba3e3"/>
<circle cx="332.30" cy="540.10" r="1.55" fill="#4ba3e3"/>
<circle cx="329.30" cy="543.70" r="1.55" fill="#4ba3e3"/>
<circle cx="348.10" cy="506.90" r="1.55" fill="#ad1030"/>
<circle cx="348.10" cy="536.80" r="1.55" fill="#ad1030"/>
<circle cx="344.00" cy="540.50" r="1.55" fill="#ad1030"/>
<circle cx="346.50" cy="541.50" r="1.55" fill="#ad1030"/>
<circle cx="349.00" cy="542.00" r="1.55" fill="#ad1030"/>
<circle cx="351.50" cy="541.50" r="1.55" fill="#ad1030"/>
<circle cx="353.00" cy="540.50" r="1.55" fill="#ad1030"/>
<circle cx="347.00" cy="543.50" r="1.55" fill="#ad1030"/>
<circle cx="350.00" cy="543.50" r="1.55" fill="#ad1030"/>
<circle cx="365.60" cy="524.40" r="1.55" fill="#e08b0c"/>
<circle cx="362.00" cy="534.20" r="1.55" fill="#e08b0c"/>
<circle cx="368.90" cy="534.20" r="1.55" fill="#e08b0c"/>
<circle cx="363.50" cy="537.50" r="1.55" fill="#e08b0c"/>
<circle cx="367.50" cy="537.50" r="1.55" fill="#e08b0c"/>
<circle cx="362.00" cy="541.70" r="1.55" fill="#e08b0c"/>
<circle cx="370.50" cy="541.70" r="1.55" fill="#e08b0c"/>
<circle cx="364.50" cy="543.50" r="1.55" fill="#e08b0c"/>
<circle cx="367.50" cy="543.50" r="1.55" fill="#e08b0c"/>
<line x1="306.80" y1="527.00" x2="318.70" y2="527.00" stroke="#1a1a1a" stroke-width="1.2"/>
<line x1="308.90" y1="520.40" x2="315.90" y2="520.40" stroke="#1a1a1a" stroke-width="1.2"/>
<line x1="308.90" y1="532.50" x2="315.90" y2="532.50" stroke="#1a1a1a" stroke-width="1.2"/>
<line x1="312.70" y1="520.40" x2="312.70" y2="532.50" stroke="#1a1a1a" stroke-width="1.02"/>
<line x1="324.40" y1="534.70" x2="335.90" y2="534.70" stroke="#1a1a1a" stroke-width="1.2"/>
<line x1="327.50" y1="531.40" x2="333.00" y2="531.40" stroke="#1a1a1a" stroke-width="1.2"/>
<line x1="327.50" y1="537.40" x2="333.00" y2="537.40" stroke="#1a1a1a" stroke-width="1.2"/>
<line x1="330.10" y1="531.40" x2="330.10" y2="537.40" stroke="#1a1a1a" stroke-width="1.02"/>
<line x1="341.60" y1="537.40" x2="353.80" y2="537.40" stroke="#1a1a1a" stroke-width="1.2"/>
<line x1="344.90" y1="533.50" x2="351.40" y2="533.50" stroke="#1a1a1a" stroke-width="1.2"/>
<line x1="344.90" y1="540.00" x2="351.40" y2="540.00" stroke="#1a1a1a" stroke-width="1.2"/>
<line x1="347.80" y1="533.50" x2="347.80" y2="540.00" stroke="#1a1a1a" stroke-width="1.02"/>
<line x1="359.60" y1="538.40" x2="371.00" y2="538.40" stroke="#1a1a1a" stroke-width="1.2"/>
<line x1="362.50" y1="536.30" x2="368.50" y2="536.30" stroke="#1a1a1a" stroke-width="1.2"/>
<line x1="362.50" y1="540.40" x2="368.50" y2="540.40" stroke="#1a1a1a" stroke-width="1.2"/>
<line x1="365.30" y1="536.30" x2="365.30" y2="540.40" stroke="#1a1a1a" stroke-width="1.02"/>
<line x1="429.00" y1="479.50" x2="429.00" y2="545.15" stroke="#1a1a1a" stroke-width="1.2"/>
<line x1="428.40" y1="544.60" x2="514.90" y2="544.60" stroke="#1a1a1a" stroke-width="1.2"/>
<line x1="426.00" y1="481.90" x2="429.00" y2="481.90" stroke="#1a1a1a" stroke-width="1.0"/>
<text x="423.40" y="484.85" font-size="8.3" text-anchor="end" fill="#2a2a2a" stroke="#2a2a2a">10</text>
<line x1="426.00" y1="503.10" x2="429.00" y2="503.10" stroke="#1a1a1a" stroke-width="1.0"/>
<text x="423.40" y="506.05" font-size="8.3" text-anchor="end" fill="#2a2a2a" stroke="#2a2a2a">1</text>
<line x1="426.00" y1="523.60" x2="429.00" y2="523.60" stroke="#1a1a1a" stroke-width="1.0"/>
<text x="423.40" y="526.55" font-size="8.3" text-anchor="end" fill="#2a2a2a" stroke="#2a2a2a">0.1</text>
<line x1="426.00" y1="544.40" x2="429.00" y2="544.40" stroke="#1a1a1a" stroke-width="1.0"/>
<text x="423.40" y="547.35" font-size="8.3" text-anchor="end" fill="#2a2a2a" stroke="#2a2a2a">0.01</text>
<line x1="427.50" y1="538.14" x2="429.00" y2="538.14" stroke="#1a1a1a" stroke-width="0.7"/>
<line x1="427.50" y1="534.48" x2="429.00" y2="534.48" stroke="#1a1a1a" stroke-width="0.7"/>
<line x1="427.50" y1="531.88" x2="429.00" y2="531.88" stroke="#1a1a1a" stroke-width="0.7"/>
<line x1="427.50" y1="529.86" x2="429.00" y2="529.86" stroke="#1a1a1a" stroke-width="0.7"/>
<line x1="427.50" y1="528.21" x2="429.00" y2="528.21" stroke="#1a1a1a" stroke-width="0.7"/>
<line x1="427.50" y1="526.82" x2="429.00" y2="526.82" stroke="#1a1a1a" stroke-width="0.7"/>
<line x1="427.50" y1="525.62" x2="429.00" y2="525.62" stroke="#1a1a1a" stroke-width="0.7"/>
<line x1="427.50" y1="524.55" x2="429.00" y2="524.55" stroke="#1a1a1a" stroke-width="0.7"/>
<line x1="427.50" y1="517.43" x2="429.00" y2="517.43" stroke="#1a1a1a" stroke-width="0.7"/>
<line x1="427.50" y1="513.82" x2="429.00" y2="513.82" stroke="#1a1a1a" stroke-width="0.7"/>
<line x1="427.50" y1="511.26" x2="429.00" y2="511.26" stroke="#1a1a1a" stroke-width="0.7"/>
<line x1="427.50" y1="509.27" x2="429.00" y2="509.27" stroke="#1a1a1a" stroke-width="0.7"/>
<line x1="427.50" y1="507.65" x2="429.00" y2="507.65" stroke="#1a1a1a" stroke-width="0.7"/>
<line x1="427.50" y1="506.28" x2="429.00" y2="506.28" stroke="#1a1a1a" stroke-width="0.7"/>
<line x1="427.50" y1="505.09" x2="429.00" y2="505.09" stroke="#1a1a1a" stroke-width="0.7"/>
<line x1="427.50" y1="504.04" x2="429.00" y2="504.04" stroke="#1a1a1a" stroke-width="0.7"/>
<line x1="427.50" y1="496.72" x2="429.00" y2="496.72" stroke="#1a1a1a" stroke-width="0.7"/>
<line x1="427.50" y1="492.99" x2="429.00" y2="492.99" stroke="#1a1a1a" stroke-width="0.7"/>
<line x1="427.50" y1="490.34" x2="429.00" y2="490.34" stroke="#1a1a1a" stroke-width="0.7"/>
<line x1="427.50" y1="488.28" x2="429.00" y2="488.28" stroke="#1a1a1a" stroke-width="0.7"/>
<line x1="427.50" y1="486.60" x2="429.00" y2="486.60" stroke="#1a1a1a" stroke-width="0.7"/>
<line x1="427.50" y1="485.18" x2="429.00" y2="485.18" stroke="#1a1a1a" stroke-width="0.7"/>
<line x1="427.50" y1="483.95" x2="429.00" y2="483.95" stroke="#1a1a1a" stroke-width="0.7"/>
<line x1="427.50" y1="482.87" x2="429.00" y2="482.87" stroke="#1a1a1a" stroke-width="0.7"/>
<line x1="441.20" y1="544.60" x2="441.20" y2="547.00" stroke="#1a1a1a" stroke-width="1.0"/>
<line x1="458.50" y1="544.60" x2="458.50" y2="547.00" stroke="#1a1a1a" stroke-width="1.0"/>
<line x1="476.50" y1="544.60" x2="476.50" y2="547.00" stroke="#1a1a1a" stroke-width="1.0"/>
<line x1="493.90" y1="544.60" x2="493.90" y2="547.00" stroke="#1a1a1a" stroke-width="1.0"/>
<text x="441.50" y="558.00" font-size="8.5" text-anchor="middle" fill="#2a2a2a" stroke="#2a2a2a" textLength="13.50" lengthAdjust="spacingAndGlyphs">Veh</text>
<text x="458.70" y="558.00" font-size="8.5" text-anchor="middle" fill="#2a2a2a" stroke="#2a2a2a" textLength="18.00" lengthAdjust="spacingAndGlyphs">Tram</text>
<text x="476.00" y="558.00" font-size="8.5" text-anchor="middle" fill="#2a2a2a" stroke="#2a2a2a" textLength="12.80" lengthAdjust="spacingAndGlyphs">S63</text>
<text x="499.80" y="558.00" font-size="8.5" text-anchor="middle" fill="#2a2a2a" stroke="#2a2a2a" textLength="26.40" lengthAdjust="spacingAndGlyphs">Combo</text>
<text x="402.56" y="509.80" font-size="9.2" text-anchor="middle" fill="#2a2a2a" stroke="#2a2a2a" textLength="94.00" lengthAdjust="spacingAndGlyphs" transform="rotate(-90 402.56 509.80)">hCD45<tspan dy="-3" font-size="6">+</tspan><tspan dy="3"> blood cells (10</tspan><tspan dy="-3" font-size="6">3</tspan><tspan dy="3">/µL)</tspan></text>
<line x1="439.90" y1="476.20" x2="492.40" y2="476.20" stroke="#3a3a3a" stroke-width="1.2"/>
<polygon points="466.20,471.05 466.61,471.93 467.58,472.05 466.87,472.72 467.05,473.67 466.20,473.20 465.35,473.67 465.53,472.72 464.82,472.05 465.79,471.93" fill="#222" stroke="#222" stroke-width="0.3"/>
<line x1="439.90" y1="483.20" x2="473.00" y2="483.20" stroke="#3a3a3a" stroke-width="1.2"/>
<polygon points="454.80,478.25 455.21,479.13 456.18,479.25 455.47,479.92 455.65,480.87 454.80,480.40 453.95,480.87 454.13,479.92 453.42,479.25 454.39,479.13" fill="#222" stroke="#222" stroke-width="0.3"/>
<polygon points="458.20,478.25 458.61,479.13 459.58,479.25 458.87,479.92 459.05,480.87 458.20,480.40 457.35,480.87 457.53,479.92 456.82,479.25 457.79,479.13" fill="#222" stroke="#222" stroke-width="0.3"/>
<line x1="439.90" y1="490.40" x2="459.60" y2="490.40" stroke="#3a3a3a" stroke-width="1.2"/>
<text x="449.90" y="488.70" font-size="7.8" text-anchor="middle" fill="#333" stroke="#333" textLength="6.80" lengthAdjust="spacingAndGlyphs">ns</text>
<circle cx="441.20" cy="495.80" r="1.55" fill="#5ba82c"/>
<circle cx="441.20" cy="507.30" r="1.55" fill="#5ba82c"/>
<circle cx="439.60" cy="515.00" r="1.55" fill="#5ba82c"/>
<circle cx="443.20" cy="515.00" r="1.55" fill="#5ba82c"/>
<circle cx="441.20" cy="517.30" r="1.55" fill="#5ba82c"/>
<circle cx="441.20" cy="521.20" r="1.55" fill="#5ba82c"/>
<circle cx="441.20" cy="525.00" r="1.55" fill="#5ba82c"/>
<circle cx="441.20" cy="544.50" r="1.55" fill="#5ba82c"/>
<circle cx="459.10" cy="507.30" r="1.55" fill="#4ba3e3"/>
<circle cx="459.10" cy="512.90" r="1.55" fill="#4ba3e3"/>
<circle cx="457.30" cy="517.90" r="1.55" fill="#4ba3e3"/>
<circle cx="460.70" cy="518.70" r="1.55" fill="#4ba3e3"/>
<circle cx="459.10" cy="522.60" r="1.55" fill="#4ba3e3"/>
<circle cx="459.10" cy="527.40" r="1.55" fill="#4ba3e3"/>
<circle cx="460.60" cy="532.50" r="1.55" fill="#4ba3e3"/>
<circle cx="457.30" cy="535.30" r="1.55" fill="#4ba3e3"/>
<circle cx="476.40" cy="532.50" r="1.55" fill="#ad1030"/>
<circle cx="473.00" cy="538.90" r="1.55" fill="#ad1030"/>
<circle cx="476.40" cy="538.90" r="1.55" fill="#ad1030"/>
<circle cx="479.50" cy="538.90" r="1.55" fill="#ad1030"/>
<circle cx="473.00" cy="544.30" r="1.55" fill="#ad1030"/>
<circle cx="476.40" cy="544.30" r="1.55" fill="#ad1030"/>
<circle cx="479.50" cy="544.30" r="1.55" fill="#ad1030"/>
<circle cx="493.90" cy="517.00" r="1.55" fill="#e08b0c"/>
<circle cx="493.90" cy="521.60" r="1.55" fill="#e08b0c"/>
<circle cx="491.90" cy="527.30" r="1.55" fill="#e08b0c"/>
<circle cx="495.80" cy="527.30" r="1.55" fill="#e08b0c"/>
<circle cx="493.90" cy="538.80" r="1.55" fill="#e08b0c"/>
<circle cx="490.50" cy="544.30" r="1.55" fill="#e08b0c"/>
<circle cx="493.90" cy="544.30" r="1.55" fill="#e08b0c"/>
<circle cx="497.30" cy="544.30" r="1.55" fill="#e08b0c"/>
<line x1="435.00" y1="509.60" x2="447.30" y2="509.60" stroke="#1a1a1a" stroke-width="1.2"/>
<line x1="438.10" y1="505.30" x2="444.20" y2="505.30" stroke="#1a1a1a" stroke-width="1.2"/>
<line x1="438.10" y1="515.80" x2="444.20" y2="515.80" stroke="#1a1a1a" stroke-width="1.2"/>
<line x1="441.20" y1="505.30" x2="441.20" y2="515.80" stroke="#1a1a1a" stroke-width="1.02"/>
<line x1="452.70" y1="517.30" x2="464.70" y2="517.30" stroke="#1a1a1a" stroke-width="1.2"/>
<line x1="455.50" y1="514.50" x2="461.90" y2="514.50" stroke="#1a1a1a" stroke-width="1.2"/>
<line x1="455.50" y1="521.20" x2="461.90" y2="521.20" stroke="#1a1a1a" stroke-width="1.2"/>
<line x1="458.50" y1="514.50" x2="458.50" y2="521.20" stroke="#1a1a1a" stroke-width="1.02"/>
<line x1="470.30" y1="541.30" x2="482.20" y2="541.30" stroke="#1a1a1a" stroke-width="1.2"/>
<line x1="473.50" y1="539.30" x2="479.50" y2="539.30" stroke="#1a1a1a" stroke-width="1.2"/>
<line x1="473.50" y1="542.70" x2="479.50" y2="542.70" stroke="#1a1a1a" stroke-width="1.2"/>
<line x1="476.50" y1="539.30" x2="476.50" y2="542.70" stroke="#1a1a1a" stroke-width="1.02"/>
<line x1="488.10" y1="528.50" x2="499.60" y2="528.50" stroke="#1a1a1a" stroke-width="1.2"/>
<line x1="490.80" y1="525.30" x2="497.00" y2="525.30" stroke="#1a1a1a" stroke-width="1.2"/>
<line x1="490.80" y1="533.20" x2="497.00" y2="533.20" stroke="#1a1a1a" stroke-width="1.2"/>
<line x1="493.90" y1="525.30" x2="493.90" y2="533.20" stroke="#1a1a1a" stroke-width="1.02"/>
<rect x="0.5" y="0.5" width="519" height="566" fill="none" stroke="#111" stroke-width="1.2"/>
</svg></body></html>
